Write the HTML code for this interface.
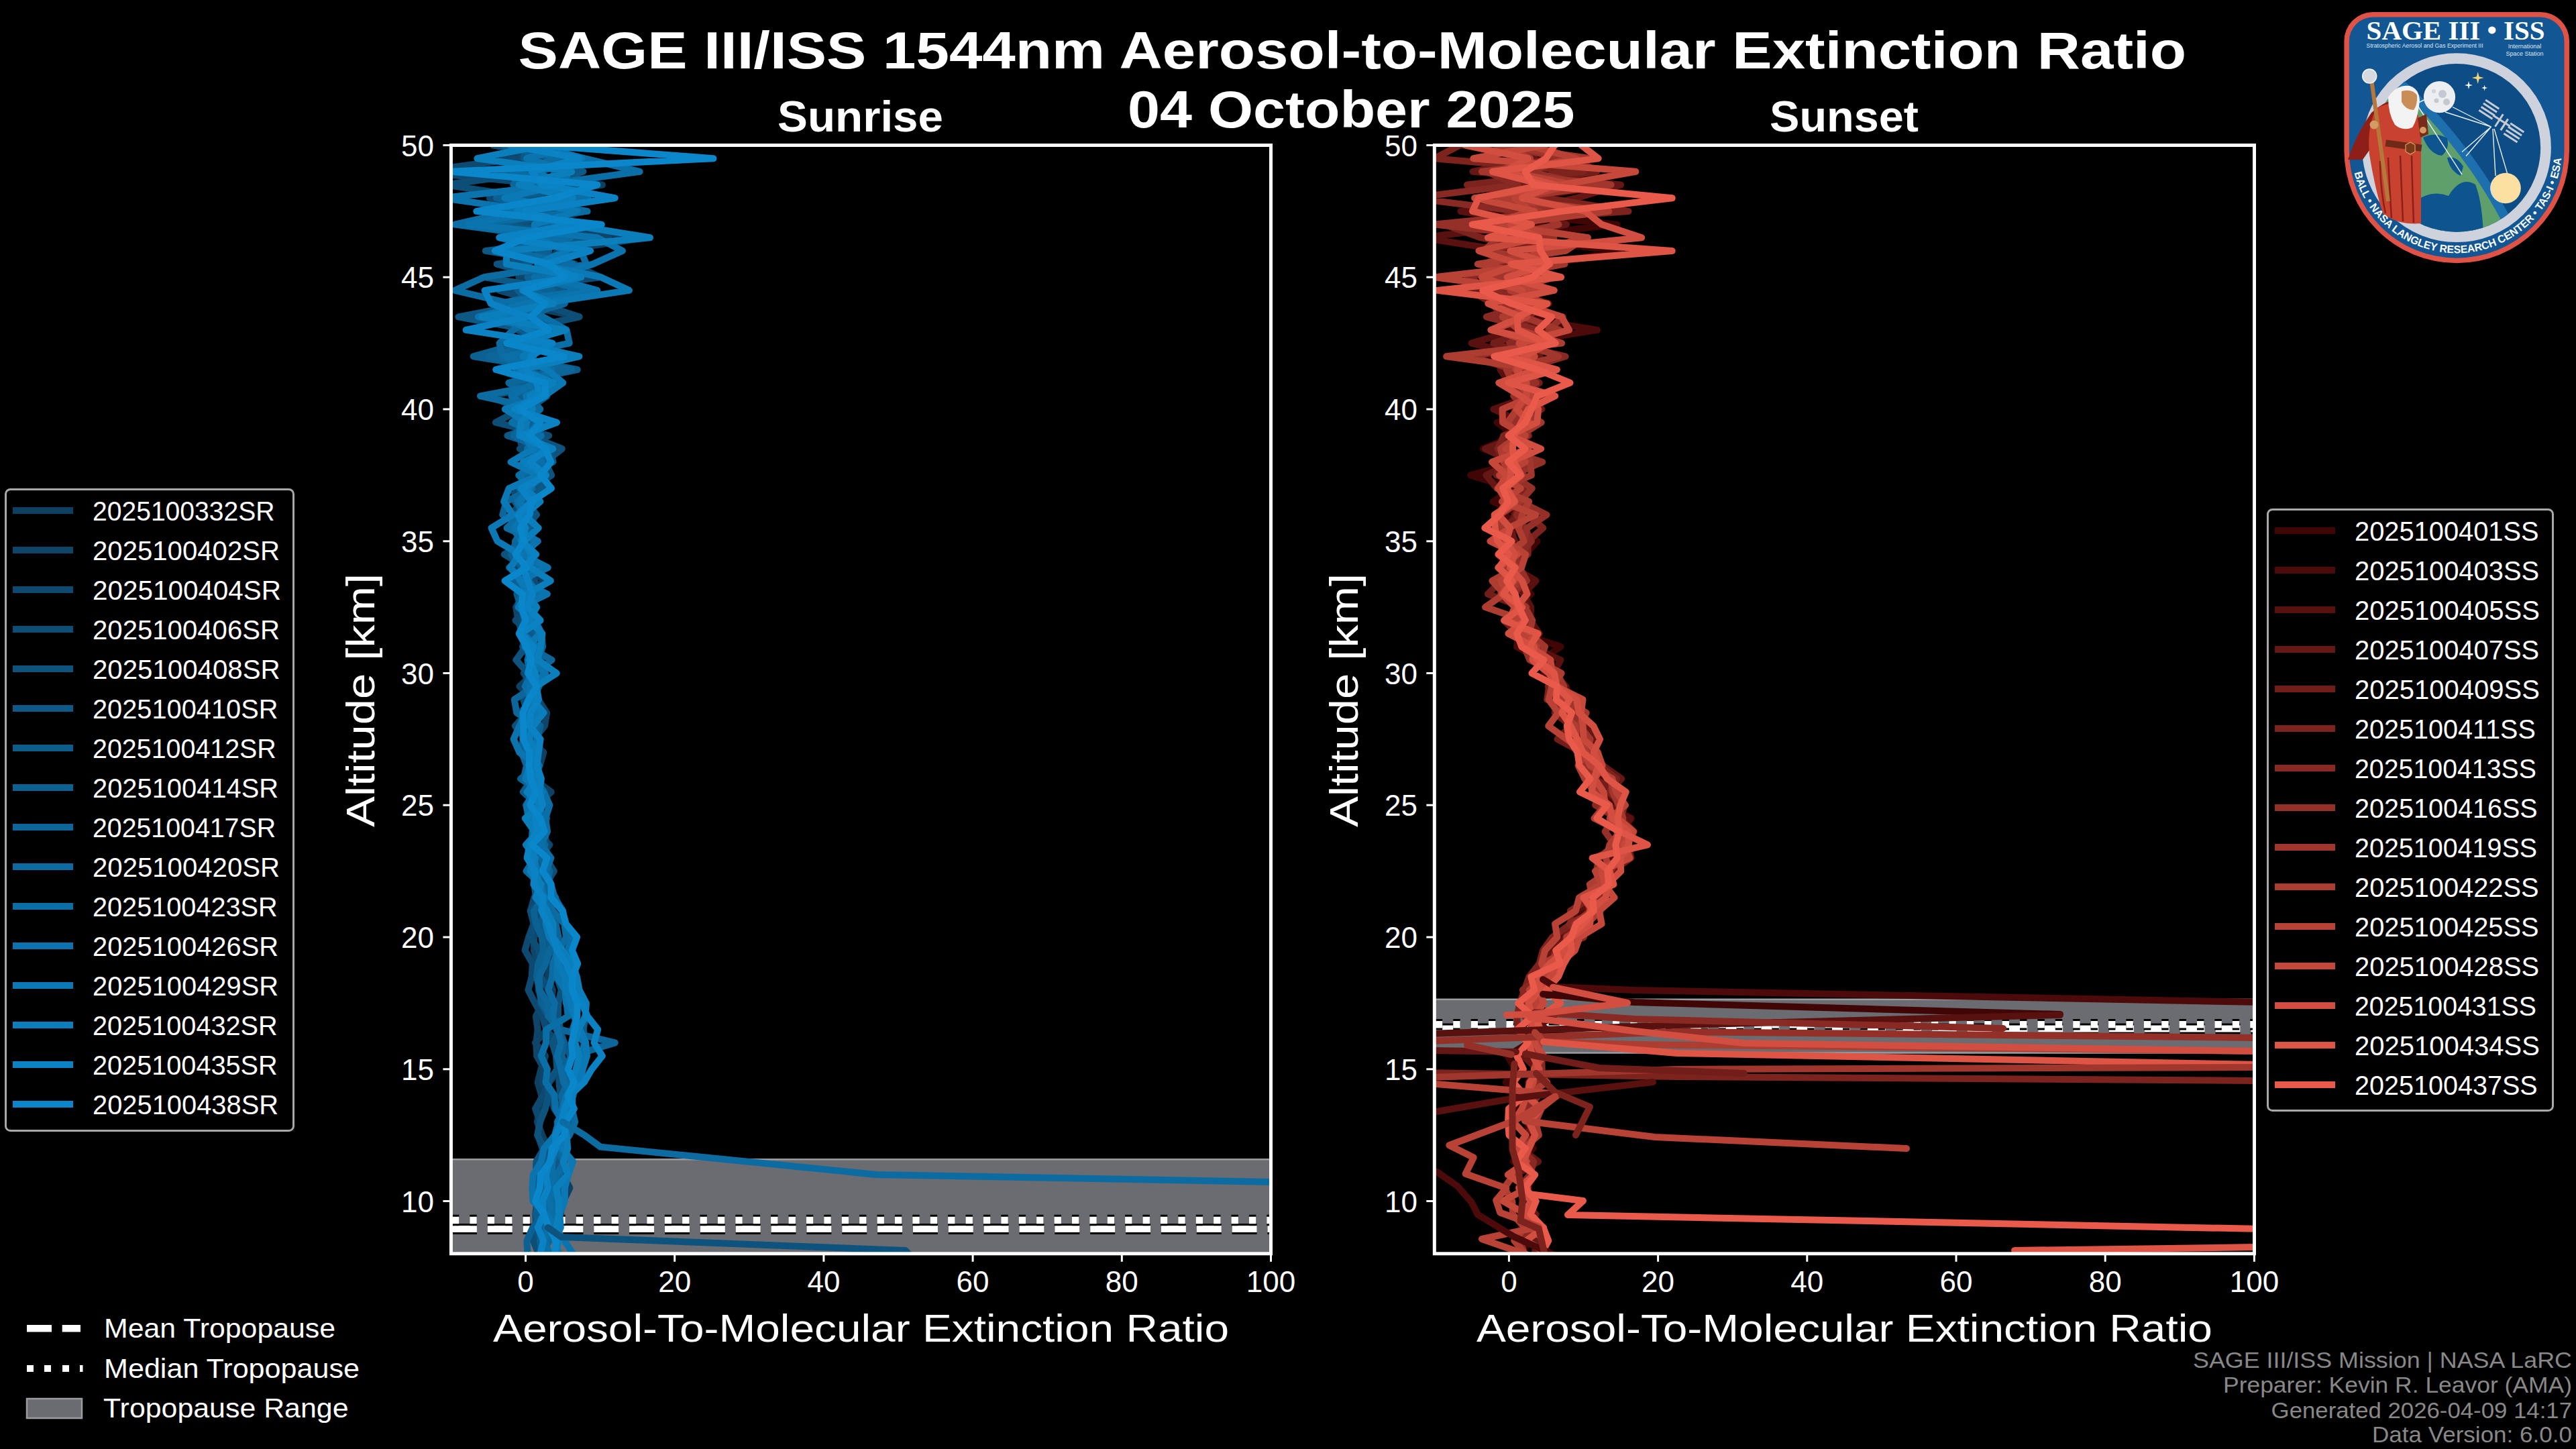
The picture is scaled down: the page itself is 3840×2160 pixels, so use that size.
<!DOCTYPE html><html><head><meta charset="utf-8"><style>html,body{margin:0;padding:0;background:#000;overflow:hidden}svg{display:block}</style></head><body>
<svg width="3840" height="2160" viewBox="0 0 3840 2160" style="font-family:'Liberation Sans', sans-serif">
<rect x="0" y="0" width="3840" height="2160" fill="#000"/>
<defs><clipPath id="cl"><rect x="672.4" y="216.5" width="1222.1" height="1652.3"/></clipPath><clipPath id="cr"><rect x="2138.3" y="216.5" width="1222.2" height="1652.3"/></clipPath></defs>
<text x="772.6" y="102.3" font-size="78" text-anchor="start" font-weight="bold" fill="#fff" textLength="2486.4" lengthAdjust="spacingAndGlyphs">SAGE III/ISS 1544nm Aerosol-to-Molecular Extinction Ratio</text>
<text x="1681.0" y="189.7" font-size="78" text-anchor="start" font-weight="bold" fill="#fff" textLength="666.5" lengthAdjust="spacingAndGlyphs">04 October 2025</text>
<text x="1159.0" y="195.5" font-size="64" text-anchor="start" font-weight="bold" fill="#fff" textLength="247.0" lengthAdjust="spacingAndGlyphs">Sunrise</text>
<text x="2638.0" y="195.5" font-size="64" text-anchor="start" font-weight="bold" fill="#fff" textLength="222.0" lengthAdjust="spacingAndGlyphs">Sunset</text>
<g clip-path="url(#cl)"><rect x="672.4" y="1728.3" width="1222.1" height="140.5" fill="#6a6c71"/><line x1="672.4" y1="1728.3" x2="1894.5" y2="1728.3" stroke="#9a9ca0" stroke-width="2.5"/><line x1="672.4" y1="1868.8" x2="1894.5" y2="1868.8" stroke="#9a9ca0" stroke-width="2.5"/></g>
<g clip-path="url(#cl)">
<line x1="672.4" y1="1832.0" x2="1894.5" y2="1832.0" stroke="#000" stroke-width="16" stroke-dasharray="37 15.85" stroke-dashoffset="-1.5"/>
<line x1="672.4" y1="1832.0" x2="1894.5" y2="1832.0" stroke="#fff" stroke-width="10" stroke-dasharray="37 15.85" stroke-dashoffset="-1.5"/>
<line x1="672.4" y1="1819.0" x2="1894.5" y2="1819.0" stroke="#000" stroke-width="16.5" stroke-dasharray="10.4 16.0" stroke-dashoffset="-1.5"/>
<line x1="672.4" y1="1819.0" x2="1894.5" y2="1819.0" stroke="#fff" stroke-width="10.4" stroke-dasharray="10.4 16.0" stroke-dashoffset="-1.5"/>
</g>
<g clip-path="url(#cr)"><rect x="2138.3" y="1489.8" width="1222.2" height="79.7" fill="#6a6c71"/><line x1="2138.3" y1="1489.8" x2="3360.5" y2="1489.8" stroke="#9a9ca0" stroke-width="2.5"/><line x1="2138.3" y1="1569.5" x2="3360.5" y2="1569.5" stroke="#9a9ca0" stroke-width="2.5"/></g>
<g clip-path="url(#cr)">
<line x1="2138.3" y1="1533.5" x2="3360.5" y2="1533.5" stroke="#000" stroke-width="16" stroke-dasharray="37 15.85" stroke-dashoffset="-1.5"/>
<line x1="2138.3" y1="1533.5" x2="3360.5" y2="1533.5" stroke="#fff" stroke-width="10" stroke-dasharray="37 15.85" stroke-dashoffset="-1.5"/>
<line x1="2138.3" y1="1527.2" x2="3360.5" y2="1527.2" stroke="#000" stroke-width="16.5" stroke-dasharray="10.4 16.0" stroke-dashoffset="-1.5"/>
<line x1="2138.3" y1="1527.2" x2="3360.5" y2="1527.2" stroke="#fff" stroke-width="10.4" stroke-dasharray="10.4 16.0" stroke-dashoffset="-1.5"/>
</g>
<g clip-path="url(#cl)">
<path d="M779.7 196.8 L770.6 216.5 L802.7 236.2 L759.8 255.8 L897.9 275.5 L769.7 295.2 L871.7 314.9 L791.9 334.6 L963.5 354.2 L831.6 373.9 L814.8 393.6 L849.4 413.2 L810.1 432.9 L767.5 452.6 L863.0 472.3 L772.0 491.9 L812.0 511.6 L792.3 531.3 L748.8 551.0 L802.6 570.7 L762.8 590.3 L763.3 610.0 L790.5 629.7 L778.4 649.4 L797.4 669.0 L790.2 688.7 L803.2 708.4 L769.5 728.0 L795.6 747.7 L773.2 767.4 L803.0 787.1 L781.2 806.8 L784.6 826.4 L779.8 846.1 L815.3 865.8 L773.8 885.5 L792.2 905.1 L780.6 924.8 L796.6 944.5 L779.5 964.1 L793.0 983.8 L795.7 1003.5 L774.4 1023.2 L794.9 1042.8 L775.1 1062.5 L794.1 1082.2 L787.4 1101.9 L810.4 1121.6 L804.8 1141.2 L794.9 1160.9 L821.8 1180.6 L800.3 1200.2 L806.4 1219.9 L794.6 1239.6 L812.1 1259.3 L800.3 1279.0 L822.8 1298.6 L810.4 1318.3 L820.2 1338.0 L818.4 1357.7 L824.3 1377.3 L822.0 1397.0 L825.0 1416.7 L821.4 1436.4 L816.0 1456.0 L823.8 1475.7 L822.2 1495.4 L819.9 1515.0 L815.7 1534.7 L798.0 1554.4 L813.0 1574.1 L806.5 1593.8 L801.6 1613.4 L807.2 1633.1 L806.2 1652.8 L800.8 1672.5 L808.1 1692.1 L817.6 1711.8 L827.9 1731.5 L839.4 1751.2 L849.4 1770.8 L839.8 1790.5 L835.3 1810.2 L819.7 1829.9 L808.3 1849.5 L800.6 1869.2 L810.4 1888.9" fill="none" stroke="#0e4062" stroke-width="10" stroke-linejoin="round" stroke-linecap="round"/>
<path d="M838.6 196.8 L787.8 216.5 L750.0 236.2 L765.2 255.8 L836.8 275.5 L760.6 295.2 L747.4 314.9 L753.9 334.6 L907.7 354.2 L779.9 373.9 L821.3 393.6 L773.3 413.2 L835.5 432.9 L839.2 452.6 L785.9 472.3 L791.0 491.9 L772.9 511.6 L793.0 531.3 L741.6 551.0 L798.3 570.7 L786.9 590.3 L774.2 610.0 L789.0 629.7 L773.1 649.4 L779.1 669.0 L797.6 688.7 L806.3 708.4 L779.0 728.0 L792.9 747.7 L787.3 767.4 L801.3 787.1 L776.1 806.8 L797.7 826.4 L777.3 846.1 L773.5 865.8 L781.3 885.5 L769.2 905.1 L772.4 924.8 L778.2 944.5 L800.1 964.1 L791.3 983.8 L800.0 1003.5 L783.5 1023.2 L802.3 1042.8 L815.1 1062.5 L812.0 1082.2 L796.1 1101.9 L794.2 1121.6 L802.8 1141.2 L784.8 1160.9 L800.6 1180.6 L797.6 1200.2 L803.8 1219.9 L799.7 1239.6 L819.3 1259.3 L803.4 1279.0 L813.8 1298.6 L817.0 1318.3 L808.5 1338.0 L800.8 1357.7 L806.3 1377.3 L796.0 1397.0 L795.9 1416.7 L801.6 1436.4 L803.6 1456.0 L802.6 1475.7 L809.0 1495.4 L798.8 1515.0 L801.6 1534.7 L799.3 1554.4 L800.2 1574.1 L811.2 1593.8 L808.2 1613.4 L820.5 1633.1 L826.2 1652.8 L839.6 1672.5 L829.2 1692.1 L836.9 1711.8 L839.2 1731.5 L841.0 1751.2 L838.1 1770.8 L836.3 1790.5 L823.3 1810.2 L813.2 1829.9 L801.7 1849.5 L804.2 1869.2 L797.2 1888.9" fill="none" stroke="#0e4569" stroke-width="10" stroke-linejoin="round" stroke-linecap="round"/>
<path d="M850.1 196.8 L782.4 216.5 L772.8 236.2 L623.9 255.8 L818.8 275.5 L729.9 295.2 L828.5 314.9 L747.5 334.6 L861.8 354.2 L779.2 373.9 L852.9 393.6 L895.0 413.2 L744.4 432.9 L813.2 452.6 L802.0 472.3 L813.9 491.9 L759.1 511.6 L795.0 531.3 L780.4 551.0 L777.4 570.7 L773.3 590.3 L779.0 610.0 L812.7 629.7 L780.4 649.4 L811.2 669.0 L796.9 688.7 L801.1 708.4 L760.9 728.0 L780.0 747.7 L760.9 767.4 L775.7 787.1 L776.5 806.8 L786.4 826.4 L765.3 846.1 L797.2 865.8 L795.3 885.5 L790.3 905.1 L768.4 924.8 L792.1 944.5 L797.0 964.1 L795.5 983.8 L780.7 1003.5 L794.2 1023.2 L791.1 1042.8 L801.4 1062.5 L793.4 1082.2 L797.2 1101.9 L779.1 1121.6 L804.0 1141.2 L792.6 1160.9 L812.2 1180.6 L803.5 1200.2 L808.2 1219.9 L810.7 1239.6 L815.5 1259.3 L812.6 1279.0 L821.1 1298.6 L810.4 1318.3 L796.4 1338.0 L790.8 1357.7 L795.5 1377.3 L788.1 1397.0 L782.6 1416.7 L793.8 1436.4 L792.7 1456.0 L787.4 1475.7 L797.5 1495.4 L808.4 1515.0 L814.2 1534.7 L829.8 1554.4 L829.7 1574.1 L833.0 1593.8 L818.9 1613.4 L809.4 1633.1 L798.1 1652.8 L805.1 1672.5 L801.8 1692.1 L808.5 1711.8 L820.5 1731.5 L813.7 1751.2 L822.1 1770.8 L816.8 1790.5 L811.4 1810.2 L802.2 1829.9 L801.7 1849.5 L803.2 1869.2 L802.8 1888.9" fill="none" stroke="#0d4970" stroke-width="10" stroke-linejoin="round" stroke-linecap="round"/>
<path d="M886.8 196.8 L735.3 216.5 L848.7 236.2 L808.8 255.8 L663.9 275.5 L794.1 295.2 L807.5 314.9 L778.5 334.6 L825.9 354.2 L770.0 373.9 L857.4 393.6 L786.3 413.2 L844.7 432.9 L802.3 452.6 L863.7 472.3 L771.6 491.9 L822.9 511.6 L756.8 531.3 L774.5 551.0 L830.9 570.7 L729.1 590.3 L776.9 610.0 L738.9 629.7 L818.1 649.4 L774.8 669.0 L816.0 688.7 L788.4 708.4 L793.1 728.0 L785.0 747.7 L795.6 767.4 L784.7 787.1 L789.6 806.8 L778.7 826.4 L783.2 846.1 L771.1 865.8 L793.2 885.5 L787.5 905.1 L779.7 924.8 L796.6 944.5 L778.9 964.1 L806.6 983.8 L794.2 1003.5 L797.8 1023.2 L780.4 1042.8 L785.9 1062.5 L767.9 1082.2 L783.9 1101.9 L776.2 1121.6 L790.8 1141.2 L783.0 1160.9 L792.3 1180.6 L798.1 1200.2 L799.6 1219.9 L811.0 1239.6 L814.6 1259.3 L813.6 1279.0 L825.9 1298.6 L813.6 1318.3 L810.6 1338.0 L790.7 1357.7 L797.4 1377.3 L790.8 1397.0 L803.5 1416.7 L806.1 1436.4 L805.6 1456.0 L818.1 1475.7 L823.9 1495.4 L827.6 1515.0 L833.9 1534.7 L823.0 1554.4 L829.3 1574.1 L834.0 1593.8 L833.4 1613.4 L835.5 1633.1 L842.4 1652.8 L839.2 1672.5 L846.3 1692.1 L821.4 1711.8 L816.7 1731.5 L798.9 1751.2 L800.1 1770.8 L800.4 1790.5 L798.2 1810.2 L799.4 1829.9 L794.9 1849.5 L802.8 1869.2 L799.3 1888.9" fill="none" stroke="#0d4e77" stroke-width="10" stroke-linejoin="round" stroke-linecap="round"/>
<path d="M810.0 196.8 L756.6 216.5 L868.2 236.2 L739.8 255.8 L832.6 275.5 L792.6 295.2 L848.8 314.9 L754.4 334.6 L804.2 354.2 L878.8 373.9 L740.6 393.6 L814.6 413.2 L780.3 432.9 L814.6 452.6 L750.0 472.3 L778.2 491.9 L795.2 511.6 L757.0 531.3 L797.0 551.0 L803.0 570.7 L764.9 590.3 L791.1 610.0 L799.5 629.7 L788.8 649.4 L837.7 669.0 L812.5 688.7 L822.1 708.4 L793.8 728.0 L784.5 747.7 L799.9 767.4 L783.3 787.1 L793.5 806.8 L751.7 826.4 L785.4 846.1 L774.9 865.8 L785.6 885.5 L778.0 905.1 L787.1 924.8 L777.9 944.5 L783.5 964.1 L769.3 983.8 L786.7 1003.5 L783.5 1023.2 L790.6 1042.8 L784.1 1062.5 L800.7 1082.2 L785.6 1101.9 L800.3 1121.6 L790.7 1141.2 L796.8 1160.9 L787.9 1180.6 L799.6 1200.2 L796.3 1219.9 L812.1 1239.6 L801.7 1259.3 L804.9 1279.0 L799.3 1298.6 L817.9 1318.3 L822.6 1338.0 L837.9 1357.7 L841.4 1377.3 L849.1 1397.0 L840.6 1416.7 L843.9 1436.4 L830.0 1456.0 L836.9 1475.7 L832.1 1495.4 L831.8 1515.0 L835.5 1534.7 L824.2 1554.4 L829.0 1574.1 L830.5 1593.8 L816.6 1613.4 L817.9 1633.1 L812.9 1652.8 L804.9 1672.5 L801.1 1692.1 L810.9 1711.8 L799.3 1731.5 L798.7 1751.2 L796.5 1770.8 L803.9 1790.5 L803.0 1810.2 L795.9 1829.9 L808.2 1849.5 L806.7 1869.2 L810.9 1888.9" fill="none" stroke="#0d537e" stroke-width="10" stroke-linejoin="round" stroke-linecap="round"/>
<path d="M868.7 196.8 L785.6 216.5 L780.3 236.2 L869.5 255.8 L809.0 275.5 L825.1 295.2 L726.0 314.9 L743.7 334.6 L879.2 354.2 L723.8 373.9 L844.4 393.6 L722.8 413.2 L837.4 432.9 L786.8 452.6 L683.5 472.3 L788.3 491.9 L811.8 511.6 L763.1 531.3 L818.8 551.0 L778.0 570.7 L815.5 590.3 L787.4 610.0 L813.3 629.7 L756.3 649.4 L819.7 669.0 L824.5 688.7 L780.6 708.4 L812.8 728.0 L767.2 747.7 L781.3 767.4 L781.7 787.1 L772.6 806.8 L782.5 826.4 L758.9 846.1 L784.5 865.8 L770.4 885.5 L776.7 905.1 L781.8 924.8 L791.5 944.5 L790.9 964.1 L787.2 983.8 L787.7 1003.5 L790.6 1023.2 L801.0 1042.8 L799.1 1062.5 L802.0 1082.2 L789.2 1101.9 L796.0 1121.6 L800.3 1141.2 L787.2 1160.9 L808.2 1180.6 L794.6 1200.2 L815.0 1219.9 L798.0 1239.6 L803.1 1259.3 L795.6 1279.0 L803.4 1298.6 L796.3 1318.3 L799.2 1338.0 L808.1 1357.7 L814.9 1377.3 L809.9 1397.0 L815.4 1416.7 L810.5 1436.4 L800.6 1456.0 L804.8 1475.7 L806.3 1495.4 L817.7 1515.0 L834.3 1534.7 L841.1 1554.4 L850.4 1574.1 L845.4 1593.8 L841.2 1613.4 L844.9 1633.1 L830.1 1652.8 L840.3 1672.5 L831.8 1692.1 L834.6 1711.8 L829.0 1731.5 L831.1 1751.2 L828.1 1770.8 L829.6 1790.5 L821.0 1810.2 L822.3 1829.9 L810.2 1849.5 L811.3 1869.2 L808.9 1888.9" fill="none" stroke="#0d5885" stroke-width="10" stroke-linejoin="round" stroke-linecap="round"/>
<path d="M820.4 196.8 L753.7 216.5 L844.4 236.2 L753.2 255.8 L882.9 275.5 L749.8 295.2 L830.8 314.9 L839.0 334.6 L744.4 354.2 L818.2 373.9 L784.6 393.6 L797.4 413.2 L772.0 432.9 L795.0 452.6 L763.4 472.3 L778.4 491.9 L798.5 511.6 L755.8 531.3 L860.7 551.0 L767.0 570.7 L777.0 590.3 L752.7 610.0 L817.6 629.7 L771.4 649.4 L810.4 669.0 L790.2 688.7 L791.2 708.4 L781.2 728.0 L793.3 747.7 L790.5 767.4 L764.3 787.1 L795.9 806.8 L782.5 826.4 L795.9 846.1 L783.5 865.8 L792.8 885.5 L785.4 905.1 L782.5 924.8 L799.4 944.5 L794.4 964.1 L804.4 983.8 L796.2 1003.5 L803.8 1023.2 L793.2 1042.8 L795.3 1062.5 L801.3 1082.2 L789.0 1101.9 L797.5 1121.6 L792.3 1141.2 L793.4 1160.9 L779.8 1180.6 L801.9 1200.2 L794.9 1219.9 L801.5 1239.6 L802.1 1259.3 L809.1 1279.0 L807.7 1298.6 L814.7 1318.3 L807.3 1338.0 L811.0 1357.7 L806.9 1377.3 L817.6 1397.0 L823.5 1416.7 L839.4 1436.4 L856.2 1456.0 L859.9 1475.7 L873.7 1495.4 L872.5 1515.0 L869.6 1534.7 L872.8 1554.4 L872.3 1574.1 L861.5 1593.8 L858.2 1613.4 L854.7 1633.1 L843.7 1652.8 L846.1 1672.5 L836.2 1692.1 L832.0 1711.8 L812.8 1731.5 L809.1 1751.2 L802.0 1770.8 L803.3 1790.5 L799.2 1810.2 L806.8 1829.9 L804.9 1849.5 L806.9 1869.2 L804.0 1888.9" fill="none" stroke="#0c5c8c" stroke-width="10" stroke-linejoin="round" stroke-linecap="round"/>
<path d="M881.6 196.8 L750.4 216.5 L825.3 236.2 L827.3 255.8 L817.9 275.5 L739.8 295.2 L819.0 314.9 L744.3 334.6 L797.8 354.2 L801.6 373.9 L842.9 393.6 L786.5 413.2 L823.2 432.9 L748.1 452.6 L806.1 472.3 L814.3 491.9 L775.4 511.6 L705.7 531.3 L827.6 551.0 L758.8 570.7 L802.6 590.3 L758.6 610.0 L790.1 629.7 L792.2 649.4 L816.8 669.0 L795.7 688.7 L802.9 708.4 L784.9 728.0 L786.4 747.7 L769.8 767.4 L789.0 787.1 L769.8 806.8 L761.8 826.4 L778.7 846.1 L764.0 865.8 L776.7 885.5 L772.0 905.1 L793.5 924.8 L806.8 944.5 L809.1 964.1 L801.6 983.8 L812.8 1003.5 L789.2 1023.2 L799.4 1042.8 L787.4 1062.5 L805.7 1082.2 L800.4 1101.9 L789.8 1121.6 L801.5 1141.2 L776.0 1160.9 L805.9 1180.6 L796.5 1200.2 L799.9 1219.9 L795.7 1239.6 L799.6 1259.3 L793.4 1279.0 L803.0 1298.6 L798.6 1318.3 L811.3 1338.0 L795.8 1357.7 L798.8 1377.3 L807.6 1397.0 L810.3 1416.7 L802.3 1436.4 L800.0 1456.0 L804.3 1475.7 L808.0 1495.4 L821.4 1515.0 L829.5 1534.7 L839.6 1554.4 L837.6 1574.1 L844.6 1593.8 L844.9 1613.4 L843.6 1633.1 L848.2 1652.8 L848.9 1672.5 L834.2 1692.1 L835.7 1711.8 L822.8 1731.5 L822.4 1751.2 L811.5 1770.8 L803.5 1790.5 L812.1 1810.2 L794.1 1829.9 L785.4 1849.5 L786.4 1869.2 L786.1 1888.9" fill="none" stroke="#0c6193" stroke-width="10" stroke-linejoin="round" stroke-linecap="round"/>
<path d="M797.9 196.8 L785.2 216.5 L840.6 236.2 L775.7 255.8 L765.3 275.5 L872.3 295.2 L771.3 314.9 L821.1 334.6 L810.2 354.2 L857.3 373.9 L811.7 393.6 L842.6 413.2 L789.3 432.9 L841.7 452.6 L775.6 472.3 L811.9 491.9 L807.5 511.6 L728.1 531.3 L852.2 551.0 L758.4 570.7 L788.9 590.3 L805.2 610.0 L784.2 629.7 L765.6 649.4 L802.2 669.0 L813.3 688.7 L783.3 708.4 L793.7 728.0 L754.6 747.7 L749.3 767.4 L780.2 787.1 L768.0 806.8 L768.4 826.4 L788.1 846.1 L774.8 865.8 L786.0 885.5 L781.2 905.1 L786.7 924.8 L780.5 944.5 L787.7 964.1 L822.6 983.8 L793.3 1003.5 L796.6 1023.2 L766.8 1042.8 L770.2 1062.5 L801.2 1082.2 L779.7 1101.9 L777.5 1121.6 L785.1 1141.2 L780.4 1160.9 L797.4 1180.6 L784.1 1200.2 L788.5 1219.9 L801.1 1239.6 L812.4 1259.3 L807.0 1279.0 L819.6 1298.6 L814.6 1318.3 L828.3 1338.0 L818.3 1357.7 L828.6 1377.3 L832.5 1397.0 L819.5 1416.7 L813.1 1436.4 L803.6 1456.0 L804.8 1475.7 L816.2 1495.4 L817.4 1515.0 L834.7 1534.7 L916.8 1554.4 L852.0 1574.1 L842.9 1593.8 L846.4 1613.4 L837.4 1633.1 L841.6 1652.8 L830.7 1672.5 L834.5 1692.1 L829.7 1711.8 L840.1 1731.5 L833.8 1751.2 L840.7 1770.8 L830.7 1790.5 L825.7 1810.2 L813.5 1829.9 L818.6 1849.5 L807.8 1869.2 L819.5 1888.9" fill="none" stroke="#0c6699" stroke-width="10" stroke-linejoin="round" stroke-linecap="round"/>
<path d="M806.6 196.8 L774.7 216.5 L832.6 236.2 L764.9 255.8 L821.7 275.5 L753.9 295.2 L875.6 314.9 L695.1 334.6 L850.4 354.2 L757.8 373.9 L853.6 393.6 L721.3 413.2 L678.0 432.9 L761.6 452.6 L798.4 472.3 L764.9 491.9 L744.6 511.6 L748.7 531.3 L785.5 551.0 L820.4 570.7 L716.0 590.3 L805.2 610.0 L771.0 629.7 L789.5 649.4 L815.6 669.0 L804.6 688.7 L804.4 708.4 L774.3 728.0 L796.5 747.7 L776.7 767.4 L755.5 787.1 L799.1 806.8 L783.8 826.4 L795.8 846.1 L787.5 865.8 L803.1 885.5 L779.2 905.1 L796.4 924.8 L778.3 944.5 L792.8 964.1 L786.4 983.8 L791.2 1003.5 L785.3 1023.2 L792.2 1042.8 L784.9 1062.5 L777.8 1082.2 L779.6 1101.9 L797.1 1121.6 L800.6 1141.2 L801.5 1160.9 L803.0 1180.6 L802.1 1200.2 L811.6 1219.9 L793.5 1239.6 L792.6 1259.3 L796.7 1279.0 L784.5 1298.6 L806.1 1318.3 L812.8 1338.0 L824.1 1357.7 L841.2 1377.3 L844.1 1397.0 L832.1 1416.7 L824.3 1436.4 L823.3 1456.0 L817.3 1475.7 L826.8 1495.4 L824.0 1515.0 L831.9 1534.7 L836.2 1554.4 L830.7 1574.1 L836.4 1593.8 L840.1 1613.4 L851.3 1633.1 L852.5 1652.8 L857.2 1672.5 L848.9 1692.1 L834.7 1711.8 L842.4 1731.5 L829.4 1751.2 L830.7 1770.8 L823.3 1790.5 L824.8 1810.2 L814.7 1829.9 L814.5 1849.5 L812.0 1869.2 L811.1 1888.9" fill="none" stroke="#0c6ba0" stroke-width="10" stroke-linejoin="round" stroke-linecap="round"/>
<path d="M794.4 196.8 L791.1 216.5 L871.1 236.2 L953.6 255.8 L808.9 275.5 L876.9 295.2 L764.5 314.9 L678.0 334.6 L828.0 354.2 L866.0 373.9 L873.8 393.6 L796.5 413.2 L871.1 432.9 L739.5 452.6 L809.5 472.3 L844.6 491.9 L848.7 511.6 L754.6 531.3 L822.7 551.0 L796.1 570.7 L762.6 590.3 L787.5 610.0 L762.9 629.7 L806.8 649.4 L785.9 669.0 L807.5 688.7 L773.3 708.4 L791.8 728.0 L770.9 747.7 L781.1 767.4 L763.6 787.1 L778.1 806.8 L781.6 826.4 L806.2 846.1 L776.4 865.8 L802.4 885.5 L783.7 905.1 L800.1 924.8 L802.9 944.5 L789.8 964.1 L796.5 983.8 L794.1 1003.5 L782.7 1023.2 L793.5 1042.8 L785.3 1062.5 L782.0 1082.2 L789.8 1101.9 L791.1 1121.6 L803.8 1141.2 L798.1 1160.9 L810.6 1180.6 L819.4 1200.2 L813.1 1219.9 L816.0 1239.6 L806.5 1259.3 L821.4 1279.0 L813.6 1298.6 L821.3 1318.3 L826.8 1338.0 L839.0 1357.7 L842.5 1377.3 L851.7 1397.0 L847.0 1416.7 L846.8 1436.4 L844.5 1456.0 L854.1 1475.7 L844.6 1495.4 L846.8 1515.0 L814.2 1534.7 L814.0 1554.4 L806.6 1574.1 L815.9 1593.8 L813.5 1613.4 L826.5 1633.1 L827.7 1652.8 L838.7 1672.5 L827.5 1692.1 L826.8 1711.8 L823.1 1731.5 L822.9 1751.2 L822.9 1770.8 L818.3 1790.5 L821.9 1810.2 L815.8 1829.9 L810.8 1849.5 L819.6 1869.2 L814.5 1888.9" fill="none" stroke="#0b6fa7" stroke-width="10" stroke-linejoin="round" stroke-linecap="round"/>
<path d="M844.5 196.8 L858.7 216.5 L785.0 236.2 L848.7 255.8 L837.4 275.5 L659.8 295.2 L799.0 314.9 L699.6 334.6 L890.1 354.2 L927.9 373.9 L883.8 393.6 L819.1 413.2 L890.3 432.9 L785.1 452.6 L712.9 472.3 L816.0 491.9 L771.1 511.6 L795.3 531.3 L769.1 551.0 L825.0 570.7 L784.2 590.3 L789.1 610.0 L802.7 629.7 L787.4 649.4 L804.4 669.0 L790.6 688.7 L805.5 708.4 L789.4 728.0 L775.3 747.7 L783.7 767.4 L767.0 787.1 L801.8 806.8 L778.9 826.4 L816.7 846.1 L774.7 865.8 L815.8 885.5 L776.4 905.1 L796.5 924.8 L778.9 944.5 L800.8 964.1 L793.1 983.8 L812.8 1003.5 L790.8 1023.2 L788.9 1042.8 L783.4 1062.5 L774.4 1082.2 L765.6 1101.9 L774.4 1121.6 L801.9 1141.2 L786.5 1160.9 L794.5 1180.6 L785.7 1200.2 L787.5 1219.9 L798.3 1239.6 L794.9 1259.3 L794.5 1279.0 L801.3 1298.6 L803.0 1318.3 L812.1 1338.0 L807.6 1357.7 L821.4 1377.3 L823.3 1397.0 L829.7 1416.7 L830.3 1436.4 L830.0 1456.0 L842.3 1475.7 L843.9 1495.4 L860.1 1515.0 L853.6 1534.7 L871.4 1554.4 L866.3 1574.1 L864.9 1593.8 L856.6 1613.4 L844.4 1633.1 L838.5 1652.8 L832.5 1672.5 L827.1 1692.1 L811.1 1711.8 L806.7 1731.5 L794.7 1751.2 L793.3 1770.8 L794.6 1790.5 L814.1 1810.2 L827.4 1829.9 L841.3 1849.5 L854.5 1869.2 L843.9 1888.9" fill="none" stroke="#0b74ae" stroke-width="10" stroke-linejoin="round" stroke-linecap="round"/>
<path d="M935.7 196.8 L802.9 216.5 L867.5 236.2 L799.1 255.8 L835.7 275.5 L752.2 295.2 L860.4 314.9 L796.9 334.6 L796.4 354.2 L844.8 373.9 L801.2 393.6 L895.9 413.2 L937.9 432.9 L806.4 452.6 L753.4 472.3 L788.4 491.9 L810.4 511.6 L779.4 531.3 L815.4 551.0 L839.2 570.7 L811.3 590.3 L753.1 610.0 L785.2 629.7 L780.4 649.4 L794.7 669.0 L761.6 688.7 L803.6 708.4 L758.7 728.0 L751.1 747.7 L764.4 767.4 L732.6 787.1 L741.5 806.8 L774.4 826.4 L760.7 846.1 L776.6 865.8 L785.9 885.5 L773.1 905.1 L797.4 924.8 L807.7 944.5 L782.2 964.1 L799.2 983.8 L791.4 1003.5 L798.6 1023.2 L792.4 1042.8 L801.6 1062.5 L789.7 1082.2 L803.0 1101.9 L788.7 1121.6 L790.0 1141.2 L783.4 1160.9 L808.0 1180.6 L801.9 1200.2 L795.7 1219.9 L801.9 1239.6 L784.0 1259.3 L798.1 1279.0 L796.7 1298.6 L805.5 1318.3 L806.0 1338.0 L815.5 1357.7 L813.5 1377.3 L818.7 1397.0 L832.5 1416.7 L831.9 1436.4 L841.5 1456.0 L843.5 1475.7 L851.1 1495.4 L855.8 1515.0 L864.5 1534.7 L873.2 1554.4 L875.0 1574.1 L868.7 1593.8 L865.0 1613.4 L850.5 1633.1 L847.8 1652.8 L839.2 1672.5 L841.9 1692.1 L837.9 1711.8 L854.0 1731.5 L847.2 1751.2 L841.9 1770.8 L841.9 1790.5 L834.2 1810.2 L835.8 1829.9 L827.0 1849.5 L833.4 1869.2 L822.3 1888.9" fill="none" stroke="#0b79b5" stroke-width="10" stroke-linejoin="round" stroke-linecap="round"/>
<path d="M833.2 196.8 L809.7 216.5 L711.4 236.2 L852.2 255.8 L773.5 275.5 L854.1 295.2 L770.5 314.9 L847.6 334.6 L969.0 354.2 L755.4 373.9 L754.7 393.6 L866.4 413.2 L778.8 432.9 L825.5 452.6 L718.3 472.3 L843.5 491.9 L775.0 511.6 L863.4 531.3 L775.9 551.0 L824.7 570.7 L789.8 590.3 L793.9 610.0 L776.4 629.7 L774.2 649.4 L824.3 669.0 L779.9 688.7 L814.0 708.4 L781.1 728.0 L805.4 747.7 L782.0 767.4 L802.4 787.1 L781.1 806.8 L791.0 826.4 L790.7 846.1 L820.8 865.8 L785.8 885.5 L800.1 905.1 L788.2 924.8 L808.4 944.5 L806.1 964.1 L801.6 983.8 L829.8 1003.5 L799.3 1023.2 L793.9 1042.8 L810.5 1062.5 L794.8 1082.2 L788.1 1101.9 L798.3 1121.6 L788.2 1141.2 L800.9 1160.9 L785.7 1180.6 L805.7 1200.2 L782.9 1219.9 L796.7 1239.6 L793.3 1259.3 L795.9 1279.0 L790.2 1298.6 L806.5 1318.3 L798.5 1338.0 L814.9 1357.7 L824.5 1377.3 L824.5 1397.0 L838.2 1416.7 L853.3 1436.4 L859.9 1456.0 L863.6 1475.7 L873.8 1495.4 L872.7 1515.0 L862.2 1534.7 L857.1 1554.4 L863.5 1574.1 L858.7 1593.8 L854.0 1613.4 L853.2 1633.1 L853.4 1652.8 L840.2 1672.5 L844.5 1692.1 L846.3 1711.8 L839.7 1731.5 L846.5 1751.2 L828.9 1770.8 L832.6 1790.5 L832.9 1810.2 L829.1 1829.9 L833.0 1849.5 L828.4 1869.2 L831.0 1888.9" fill="none" stroke="#0b7ebc" stroke-width="10" stroke-linejoin="round" stroke-linecap="round"/>
<path d="M834.0 196.8 L759.9 216.5 L863.5 236.2 L792.5 255.8 L807.7 275.5 L916.8 295.2 L781.7 314.9 L854.4 334.6 L744.3 354.2 L880.1 373.9 L812.5 393.6 L857.9 413.2 L722.5 432.9 L731.8 452.6 L784.8 472.3 L694.6 491.9 L823.6 511.6 L791.4 531.3 L784.5 551.0 L800.3 570.7 L804.6 590.3 L767.3 610.0 L830.0 629.7 L776.7 649.4 L815.9 669.0 L790.3 688.7 L813.3 708.4 L776.6 728.0 L792.4 747.7 L771.8 767.4 L783.4 787.1 L777.5 806.8 L799.2 826.4 L780.3 846.1 L786.7 865.8 L793.8 885.5 L786.7 905.1 L805.6 924.8 L776.4 944.5 L795.6 964.1 L789.1 983.8 L797.7 1003.5 L799.8 1023.2 L803.0 1042.8 L790.8 1062.5 L789.8 1082.2 L805.6 1101.9 L802.8 1121.6 L800.2 1141.2 L806.9 1160.9 L803.8 1180.6 L809.1 1200.2 L797.7 1219.9 L800.2 1239.6 L789.6 1259.3 L785.6 1279.0 L798.0 1298.6 L795.4 1318.3 L809.9 1338.0 L807.2 1357.7 L817.0 1377.3 L824.2 1397.0 L831.0 1416.7 L843.7 1436.4 L852.3 1456.0 L852.5 1475.7 L867.3 1495.4 L875.8 1515.0 L891.2 1534.7 L885.6 1554.4 L897.8 1574.1 L882.2 1593.8 L870.7 1613.4 L849.6 1633.1 L841.4 1652.8 L837.3 1672.5 L827.9 1692.1 L828.7 1711.8 L819.0 1731.5 L813.7 1751.2 L816.8 1770.8 L808.8 1790.5 L810.4 1810.2 L801.7 1829.9 L810.0 1849.5 L805.5 1869.2 L810.4 1888.9" fill="none" stroke="#0a82c3" stroke-width="10" stroke-linejoin="round" stroke-linecap="round"/>
<path d="M886.6 196.8 L805.7 216.5 L1063.5 236.2 L672.4 255.8 L890.4 275.5 L826.6 295.2 L710.4 314.9 L896.8 334.6 L784.5 354.2 L737.9 373.9 L819.1 393.6 L841.6 413.2 L780.9 432.9 L812.2 452.6 L791.3 472.3 L818.3 491.9 L755.2 511.6 L841.0 531.3 L739.2 551.0 L813.0 570.7 L813.0 590.3 L774.7 610.0 L805.0 629.7 L790.2 649.4 L812.8 669.0 L821.3 688.7 L805.9 708.4 L822.0 728.0 L792.3 747.7 L789.4 767.4 L775.6 787.1 L781.5 806.8 L768.6 826.4 L785.4 846.1 L752.5 865.8 L779.0 885.5 L777.4 905.1 L783.4 924.8 L773.7 944.5 L784.6 964.1 L792.4 983.8 L787.0 1003.5 L799.9 1023.2 L788.0 1042.8 L779.2 1062.5 L780.4 1082.2 L780.2 1101.9 L789.3 1121.6 L788.8 1141.2 L791.1 1160.9 L798.2 1180.6 L790.2 1200.2 L805.5 1219.9 L811.5 1239.6 L792.8 1259.3 L815.3 1279.0 L808.9 1298.6 L821.6 1318.3 L821.4 1338.0 L838.3 1357.7 L843.8 1377.3 L860.1 1397.0 L852.8 1416.7 L861.2 1436.4 L853.6 1456.0 L852.8 1475.7 L860.7 1495.4 L860.2 1515.0 L856.7 1534.7 L852.0 1554.4 L853.5 1574.1 L846.7 1593.8 L856.2 1613.4 L846.6 1633.1 L855.9 1652.8 L843.0 1672.5 L841.5 1692.1 L822.6 1711.8 L820.5 1731.5 L805.8 1751.2 L804.7 1770.8 L798.2 1790.5 L810.5 1810.2 L818.1 1829.9 L828.9 1849.5 L826.7 1869.2 L834.2 1888.9" fill="none" stroke="#0a87ca" stroke-width="10" stroke-linejoin="round" stroke-linecap="round"/>
<path d="M839.0 1672.5 L871.0 1692.0 L895.0 1709.6 L1306.0 1751.0 L1900.0 1762.0" fill="none" stroke="#0c6ba0" stroke-width="10" stroke-linejoin="round" stroke-linecap="round"/>
<path d="M816.8 1829.9 L836.5 1844.0 L1349.6 1864.0 L1360.0 1875.0" fill="none" stroke="#0d537e" stroke-width="10" stroke-linejoin="round" stroke-linecap="round"/>
</g>
<g clip-path="url(#cr)">
<path d="M2248.1 196.8 L2209.4 216.5 L2271.4 236.2 L2228.7 255.8 L2241.6 275.5 L2213.9 295.2 L2219.8 314.9 L2410.7 334.6 L2236.2 354.2 L2414.1 373.9 L2310.8 393.6 L2230.2 413.2 L2261.0 432.9 L2229.2 452.6 L2294.9 472.3 L2228.0 491.9 L2254.6 511.6 L2207.9 531.3 L2257.0 551.0 L2270.0 570.7 L2262.4 590.3 L2299.1 610.0 L2231.6 629.7 L2258.5 649.4 L2210.7 669.0 L2265.4 688.7 L2192.1 708.4 L2255.8 728.0 L2225.7 747.7 L2266.2 767.4 L2258.3 787.1 L2291.6 806.8 L2273.8 826.4 L2255.4 846.1 L2245.2 865.8 L2282.5 885.5 L2259.9 905.1 L2278.7 924.8 L2268.2 944.5 L2326.5 964.1 L2297.2 983.8 L2323.7 1003.5 L2313.0 1023.2 L2342.1 1042.8 L2317.4 1062.5 L2350.3 1082.2 L2351.0 1101.9 L2370.3 1121.6 L2390.5 1141.2 L2381.7 1160.9 L2415.1 1180.6 L2396.8 1200.2 L2432.1 1219.9 L2418.4 1239.6 L2398.6 1259.3 L2402.8 1279.0 L2386.8 1298.6 L2381.0 1318.3 L2376.8 1338.0 L2349.5 1357.7 L2343.5 1377.3 L2322.4 1397.0 L2307.4 1416.7 L2318.8 1436.4 L2294.8 1456.0 L2302.2 1475.7 L2283.8 1495.4 L2286.3 1515.0 L2263.8 1534.7 L2279.1 1554.4 L2247.3 1574.1 L2258.7 1593.8 L2244.7 1613.4 L2267.1 1633.1 L2258.6 1652.8 L2277.3 1672.5 L2278.1 1692.1 L2285.7 1711.8 L2255.8 1731.5 L2286.5 1751.2 L2277.6 1770.8 L2271.1 1790.5 L2288.7 1810.2 L2267.4 1829.9 L2280.3 1849.5 L2265.8 1869.2 L2287.7 1888.9" fill="none" stroke="#400505" stroke-width="10" stroke-linejoin="round" stroke-linecap="round"/>
<path d="M2280.6 196.8 L2189.1 216.5 L2270.7 236.2 L2258.5 255.8 L2407.2 275.5 L2270.7 295.2 L2338.3 314.9 L2285.8 334.6 L2259.4 354.2 L2317.4 373.9 L2241.7 393.6 L2224.1 413.2 L2213.5 432.9 L2288.4 452.6 L2259.9 472.3 L2381.1 491.9 L2255.7 511.6 L2282.3 531.3 L2279.4 551.0 L2290.7 570.7 L2268.2 590.3 L2257.0 610.0 L2282.3 629.7 L2240.7 649.4 L2249.4 669.0 L2236.8 688.7 L2239.2 708.4 L2258.9 728.0 L2253.7 747.7 L2243.3 767.4 L2263.4 787.1 L2237.7 806.8 L2252.9 826.4 L2265.4 846.1 L2249.8 865.8 L2250.2 885.5 L2261.8 905.1 L2249.0 924.8 L2263.7 944.5 L2261.2 964.1 L2296.9 983.8 L2302.4 1003.5 L2325.5 1023.2 L2329.8 1042.8 L2359.6 1062.5 L2360.8 1082.2 L2381.9 1101.9 L2359.4 1121.6 L2380.7 1141.2 L2409.5 1160.9 L2402.1 1180.6 L2413.1 1200.2 L2403.2 1219.9 L2414.2 1239.6 L2410.8 1259.3 L2410.7 1279.0 L2380.7 1298.6 L2382.6 1318.3 L2383.7 1338.0 L2360.4 1357.7 L2353.1 1377.3 L2330.4 1397.0 L2325.8 1416.7 L2315.3 1436.4 L2309.3 1456.0 L2299.5 1475.7 L2281.9 1495.4 L2316.1 1515.0 L2282.6 1534.7" fill="none" stroke="#4c0b0a" stroke-width="10" stroke-linejoin="round" stroke-linecap="round"/>
<path d="M2307.1 196.8 L2276.9 216.5 L2304.3 236.2 L2251.5 255.8 L2325.6 275.5 L2308.9 295.2 L2177.4 314.9 L2287.0 334.6 L2119.7 354.2 L2245.3 373.9 L2222.8 393.6 L2282.1 413.2 L2199.3 432.9 L2234.3 452.6 L2230.6 472.3 L2260.3 491.9 L2193.5 511.6 L2275.4 531.3 L2236.4 551.0 L2249.7 570.7 L2282.4 590.3 L2226.5 610.0 L2268.7 629.7 L2257.6 649.4 L2248.4 669.0 L2238.1 688.7 L2249.3 708.4 L2237.9 728.0 L2247.6 747.7 L2233.5 767.4 L2253.2 787.1 L2256.1 806.8 L2254.7 826.4 L2256.3 846.1 L2289.6 865.8 L2271.2 885.5 L2282.3 905.1 L2281.1 924.8 L2294.9 944.5 L2282.5 964.1 L2326.4 983.8 L2315.9 1003.5 L2334.5 1023.2 L2339.8 1042.8 L2357.7 1062.5 L2367.6 1082.2 L2369.1 1101.9 L2382.3 1121.6 L2378.7 1141.2 L2394.7 1160.9 L2406.6 1180.6 L2384.4 1200.2 L2430.4 1219.9 L2415.5 1239.6 L2421.8 1259.3 L2397.0 1279.0 L2398.7 1298.6 L2383.5 1318.3 L2390.2 1338.0 L2346.1 1357.7 L2350.6 1377.3 L2329.4 1397.0 L2321.3 1416.7 L2303.6 1436.4 L2293.5 1456.0 L2282.0 1475.7 L2296.1 1495.4 L2278.7 1515.0 L2306.1 1534.7" fill="none" stroke="#58110f" stroke-width="10" stroke-linejoin="round" stroke-linecap="round"/>
<path d="M2255.5 196.8 L2208.8 216.5 L2287.9 236.2 L2195.5 255.8 L2416.1 275.5 L2350.2 295.2 L2267.1 314.9 L2335.0 334.6 L2220.5 354.2 L2255.8 373.9 L2212.6 393.6 L2293.1 413.2 L2248.4 432.9 L2308.6 452.6 L2267.2 472.3 L2304.4 491.9 L2286.7 511.6 L2295.7 531.3 L2276.4 551.0 L2288.5 570.7 L2258.0 590.3 L2286.9 610.0 L2249.7 629.7 L2266.1 649.4 L2214.2 669.0 L2254.8 688.7 L2215.3 708.4 L2231.3 728.0 L2268.0 747.7 L2257.8 767.4 L2250.5 787.1 L2258.3 806.8 L2239.4 826.4 L2262.8 846.1 L2248.1 865.8 L2272.5 885.5 L2274.1 905.1 L2277.8 924.8 L2271.7 944.5 L2285.1 964.1 L2298.4 983.8 L2314.5 1003.5 L2330.6 1023.2 L2335.2 1042.8 L2339.6 1062.5 L2365.4 1082.2 L2373.9 1101.9 L2368.7 1121.6 L2389.6 1141.2 L2417.2 1160.9 L2399.0 1180.6 L2414.7 1200.2 L2410.3 1219.9 L2415.4 1239.6 L2426.9 1259.3 L2419.4 1279.0 L2399.7 1298.6 L2397.9 1318.3 L2375.0 1338.0 L2368.1 1357.7 L2355.0 1377.3 L2341.5 1397.0 L2311.6 1416.7 L2310.8 1436.4 L2286.3 1456.0 L2291.6 1475.7 L2285.4 1495.4 L2276.4 1515.0 L2285.7 1534.7 L2289.7 1554.4 L2270.5 1574.1 L2291.5 1593.8 L2278.5 1613.4 L2279.1 1633.1 L2275.3 1652.8 L2290.3 1672.5 L2273.9 1692.1 L2266.9 1711.8 L2293.2 1731.5 L2259.1 1751.2 L2278.5 1770.8 L2271.9 1790.5 L2289.5 1810.2 L2276.5 1829.9 L2291.4 1849.5 L2287.4 1869.2 L2281.0 1888.9" fill="none" stroke="#641714" stroke-width="10" stroke-linejoin="round" stroke-linecap="round"/>
<path d="M2278.7 196.8 L2272.2 216.5 L2349.4 236.2 L2380.1 255.8 L2250.8 275.5 L2292.1 295.2 L2259.4 314.9 L2216.2 334.6 L2287.6 354.2 L2228.5 373.9 L2223.0 393.6 L2309.6 413.2 L2190.8 432.9 L2225.8 452.6 L2237.4 472.3 L2284.6 491.9 L2226.2 511.6 L2282.9 531.3 L2260.3 551.0 L2294.8 570.7 L2262.0 590.3 L2297.7 610.0 L2251.6 629.7 L2279.2 649.4 L2232.4 669.0 L2238.5 688.7 L2230.9 708.4 L2273.2 728.0 L2248.2 747.7 L2268.0 767.4 L2238.3 787.1 L2250.6 806.8 L2233.0 826.4 L2255.2 846.1 L2237.6 865.8 L2217.9 885.5 L2269.5 905.1 L2241.8 924.8 L2262.3 944.5 L2282.0 964.1 L2288.6 983.8 L2318.2 1003.5 L2307.8 1023.2 L2326.3 1042.8 L2317.7 1062.5 L2341.9 1082.2 L2321.5 1101.9 L2358.4 1121.6 L2376.1 1141.2 L2376.7 1160.9 L2411.9 1180.6 L2410.6 1200.2 L2415.6 1219.9 L2435.8 1239.6 L2427.1 1259.3 L2431.5 1279.0 L2403.0 1298.6 L2403.8 1318.3 L2381.4 1338.0 L2380.1 1357.7 L2346.4 1377.3 L2333.8 1397.0 L2336.7 1416.7 L2298.4 1436.4 L2296.9 1456.0 L2284.7 1475.7 L2287.9 1495.4 L2283.1 1515.0 L2289.1 1534.7" fill="none" stroke="#711d19" stroke-width="10" stroke-linejoin="round" stroke-linecap="round"/>
<path d="M2346.1 196.8 L2175.9 216.5 L2138.3 236.2 L2360.2 255.8 L2187.0 275.5 L2304.3 295.2 L2427.5 314.9 L2153.2 334.6 L2207.1 354.2 L2311.1 373.9 L2236.3 393.6 L2258.4 413.2 L2231.4 432.9 L2298.7 452.6 L2279.3 472.3 L2265.0 491.9 L2272.3 511.6 L2281.5 531.3 L2256.3 551.0 L2259.8 570.7 L2267.9 590.3 L2259.3 610.0 L2293.7 629.7 L2241.7 649.4 L2232.6 669.0 L2254.9 688.7 L2245.6 708.4 L2271.6 728.0 L2256.8 747.7 L2277.2 767.4 L2300.2 787.1 L2277.6 806.8 L2277.7 826.4 L2240.7 846.1 L2256.3 865.8 L2236.8 885.5 L2267.5 905.1 L2248.8 924.8 L2267.2 944.5 L2268.4 964.1 L2298.4 983.8 L2313.0 1003.5 L2309.2 1023.2 L2306.2 1042.8 L2356.1 1062.5 L2356.3 1082.2 L2370.0 1101.9 L2368.8 1121.6 L2384.2 1141.2 L2410.2 1160.9 L2398.6 1180.6 L2421.9 1200.2 L2416.0 1219.9 L2425.8 1239.6 L2416.9 1259.3 L2414.5 1279.0 L2394.4 1298.6 L2381.2 1318.3 L2371.6 1338.0 L2340.9 1357.7 L2341.6 1377.3 L2314.1 1397.0 L2300.1 1416.7 L2294.8 1436.4 L2279.4 1456.0 L2272.5 1475.7 L2265.6 1495.4 L2261.4 1515.0 L2262.5 1534.7" fill="none" stroke="#7d231e" stroke-width="10" stroke-linejoin="round" stroke-linecap="round"/>
<path d="M2271.3 196.8 L2265.0 216.5 L2318.1 236.2 L2215.9 255.8 L2262.2 275.5 L2104.9 295.2 L2263.8 314.9 L2233.1 334.6 L2276.8 354.2 L2228.8 373.9 L2271.8 393.6 L2187.1 413.2 L2224.5 432.9 L2284.5 452.6 L2215.8 472.3 L2291.6 491.9 L2250.1 511.6 L2333.6 531.3 L2268.3 551.0 L2244.7 570.7 L2295.4 590.3 L2290.3 610.0 L2262.1 629.7 L2277.2 649.4 L2241.2 669.0 L2270.9 688.7 L2269.9 708.4 L2242.0 728.0 L2274.5 747.7 L2260.6 767.4 L2272.9 787.1 L2282.9 806.8 L2264.8 826.4 L2258.0 846.1 L2275.4 865.8 L2255.2 885.5 L2265.7 905.1 L2268.5 924.8 L2287.1 944.5 L2292.7 964.1 L2305.2 983.8 L2314.0 1003.5 L2328.1 1023.2 L2334.1 1042.8 L2335.4 1062.5 L2354.1 1082.2 L2364.2 1101.9 L2361.5 1121.6 L2358.9 1141.2 L2364.1 1160.9 L2384.0 1180.6 L2378.2 1200.2 L2410.7 1219.9 L2411.7 1239.6 L2408.7 1259.3 L2414.6 1279.0 L2400.2 1298.6 L2401.4 1318.3 L2380.3 1338.0 L2378.4 1357.7 L2339.8 1377.3 L2361.0 1397.0 L2319.2 1416.7 L2312.6 1436.4 L2297.7 1456.0 L2269.8 1475.7 L2276.7 1495.4 L2272.6 1515.0 L2294.1 1534.7 L2279.3 1554.4 L2298.1 1574.1 L2298.7 1593.8 L2290.4 1613.4 L2293.7 1633.1 L2275.2 1652.8 L2277.6 1672.5 L2289.7 1692.1 L2267.4 1711.8 L2286.2 1731.5 L2281.0 1751.2 L2263.5 1770.8 L2285.9 1790.5 L2273.9 1810.2 L2281.9 1829.9 L2266.9 1849.5 L2272.2 1869.2 L2264.6 1888.9" fill="none" stroke="#892923" stroke-width="10" stroke-linejoin="round" stroke-linecap="round"/>
<path d="M2236.8 196.8 L2237.3 216.5 L2334.0 236.2 L2280.0 255.8 L2362.5 275.5 L2226.9 295.2 L2337.4 314.9 L2138.3 334.6 L2316.5 354.2 L2278.1 373.9 L2293.2 393.6 L2235.5 413.2 L2309.9 432.9 L2240.8 452.6 L2329.5 472.3 L2308.8 491.9 L2303.5 511.6 L2191.6 531.3 L2257.4 551.0 L2289.9 570.7 L2256.2 590.3 L2277.5 610.0 L2257.7 629.7 L2275.5 649.4 L2236.5 669.0 L2299.3 688.7 L2253.5 708.4 L2283.8 728.0 L2266.3 747.7 L2305.6 767.4 L2276.7 787.1 L2271.4 806.8 L2255.1 826.4 L2265.4 846.1 L2276.0 865.8 L2248.3 885.5 L2275.3 905.1 L2263.1 924.8 L2278.2 944.5 L2272.3 964.1 L2280.3 983.8 L2319.7 1003.5 L2312.7 1023.2 L2333.4 1042.8 L2344.8 1062.5 L2357.5 1082.2 L2363.4 1101.9 L2364.6 1121.6 L2364.6 1141.2 L2375.4 1160.9 L2380.8 1180.6 L2388.2 1200.2 L2405.6 1219.9 L2392.7 1239.6 L2406.7 1259.3 L2383.2 1279.0 L2380.0 1298.6 L2383.6 1318.3 L2361.2 1338.0 L2371.7 1357.7 L2346.7 1377.3 L2344.2 1397.0 L2320.7 1416.7 L2314.1 1436.4 L2308.8 1456.0 L2288.6 1475.7 L2287.9 1495.4 L2287.6 1515.0 L2283.7 1534.7" fill="none" stroke="#953028" stroke-width="10" stroke-linejoin="round" stroke-linecap="round"/>
<path d="M2285.7 196.8 L2230.2 216.5 L2371.3 236.2 L2208.9 255.8 L2401.6 275.5 L2252.4 295.2 L2294.1 314.9 L2323.5 334.6 L2233.6 354.2 L2211.9 373.9 L2332.4 393.6 L2225.7 413.2 L2285.5 432.9 L2267.5 452.6 L2271.4 472.3 L2324.6 491.9 L2271.8 511.6 L2323.2 531.3 L2245.7 551.0 L2255.5 570.7 L2313.9 590.3 L2265.2 610.0 L2297.7 629.7 L2265.8 649.4 L2272.9 669.0 L2281.3 688.7 L2282.9 708.4 L2236.4 728.0 L2265.0 747.7 L2235.8 767.4 L2237.4 787.1 L2238.6 806.8 L2238.9 826.4 L2246.3 846.1 L2264.9 865.8 L2247.0 885.5 L2273.3 905.1 L2284.3 924.8 L2279.6 944.5 L2303.1 964.1 L2296.0 983.8 L2320.8 1003.5 L2331.4 1023.2 L2330.2 1042.8 L2364.8 1062.5 L2353.8 1082.2 L2370.5 1101.9 L2365.1 1121.6 L2377.1 1141.2 L2401.7 1160.9 L2403.8 1180.6 L2413.4 1200.2 L2419.4 1219.9 L2409.9 1239.6 L2421.4 1259.3 L2377.8 1279.0 L2395.7 1298.6 L2385.9 1318.3 L2363.6 1338.0 L2375.6 1357.7 L2352.8 1377.3 L2347.1 1397.0 L2327.0 1416.7 L2326.0 1436.4 L2298.4 1456.0 L2307.4 1475.7 L2283.4 1495.4 L2292.8 1515.0 L2283.6 1534.7" fill="none" stroke="#a1362c" stroke-width="10" stroke-linejoin="round" stroke-linecap="round"/>
<path d="M2289.2 196.8 L2231.2 216.5 L2281.2 236.2 L2233.4 255.8 L2339.7 275.5 L2234.2 295.2 L2398.3 314.9 L2244.2 334.6 L2363.3 354.2 L2334.1 373.9 L2202.8 393.6 L2315.9 413.2 L2251.2 432.9 L2303.9 452.6 L2239.7 472.3 L2264.9 491.9 L2328.1 511.6 L2156.1 531.3 L2299.1 551.0 L2262.6 570.7 L2280.1 590.3 L2261.4 610.0 L2247.5 629.7 L2262.7 649.4 L2237.2 669.0 L2241.7 688.7 L2250.1 708.4 L2232.3 728.0 L2279.1 747.7 L2269.0 767.4 L2263.6 787.1 L2271.6 806.8 L2246.1 826.4 L2259.8 846.1 L2224.3 865.8 L2242.1 885.5 L2214.1 905.1 L2271.4 924.8 L2267.0 944.5 L2290.9 964.1 L2288.4 983.8 L2327.6 1003.5 L2315.4 1023.2 L2332.5 1042.8 L2327.0 1062.5 L2348.7 1082.2 L2349.8 1101.9 L2365.0 1121.6 L2352.6 1141.2 L2362.3 1160.9 L2376.8 1180.6 L2392.9 1200.2 L2376.4 1219.9 L2415.0 1239.6 L2399.6 1259.3 L2393.8 1279.0 L2398.9 1298.6 L2369.8 1318.3 L2374.1 1338.0 L2385.5 1357.7 L2365.2 1377.3 L2335.2 1397.0 L2336.4 1416.7 L2300.4 1436.4 L2306.8 1456.0 L2292.2 1475.7 L2280.7 1495.4 L2301.1 1515.0 L2280.4 1534.7 L2294.2 1554.4 L2293.3 1574.1 L2287.1 1593.8 L2306.3 1613.4 L2273.2 1633.1 L2297.6 1652.8 L2289.0 1672.5 L2293.9 1692.1 L2270.5 1711.8 L2269.4 1731.5 L2256.6 1751.2 L2242.3 1770.8 L2254.3 1790.5 L2255.1 1810.2 L2272.7 1829.9 L2257.3 1849.5 L2273.8 1869.2 L2285.8 1888.9" fill="none" stroke="#ad3c31" stroke-width="10" stroke-linejoin="round" stroke-linecap="round"/>
<path d="M2363.8 196.8 L2278.8 216.5 L2349.9 236.2 L2248.7 255.8 L2344.9 275.5 L2258.4 295.2 L2282.1 314.9 L2221.0 334.6 L2367.0 354.2 L2286.3 373.9 L2309.2 393.6 L2138.3 413.2 L2287.8 432.9 L2259.5 452.6 L2276.4 472.3 L2226.1 491.9 L2289.1 511.6 L2268.5 531.3 L2259.9 551.0 L2270.3 570.7 L2285.4 590.3 L2239.5 610.0 L2240.0 629.7 L2273.7 649.4 L2244.3 669.0 L2273.9 688.7 L2235.1 708.4 L2266.8 728.0 L2238.9 747.7 L2289.3 767.4 L2249.0 787.1 L2245.5 806.8 L2274.3 826.4 L2268.1 846.1 L2237.0 865.8 L2246.2 885.5 L2266.8 905.1 L2261.0 924.8 L2270.4 944.5 L2282.9 964.1 L2292.8 983.8 L2315.8 1003.5 L2313.5 1023.2 L2308.7 1042.8 L2322.8 1062.5 L2308.2 1082.2 L2335.4 1101.9 L2361.1 1121.6 L2370.1 1141.2 L2403.5 1160.9 L2409.1 1180.6 L2422.9 1200.2 L2399.6 1219.9 L2429.9 1239.6 L2414.4 1259.3 L2420.6 1279.0 L2378.0 1298.6 L2387.6 1318.3 L2354.0 1338.0 L2348.9 1357.7 L2318.1 1377.3 L2321.3 1397.0 L2303.2 1416.7 L2298.0 1436.4 L2307.1 1456.0 L2279.7 1475.7 L2293.8 1495.4 L2276.1 1515.0 L2285.3 1534.7" fill="none" stroke="#b94236" stroke-width="10" stroke-linejoin="round" stroke-linecap="round"/>
<path d="M2314.9 196.8 L2301.4 216.5 L2196.3 236.2 L2438.3 255.8 L2327.4 275.5 L2198.1 295.2 L2287.4 314.9 L2252.1 334.6 L2294.3 354.2 L2204.4 373.9 L2264.4 393.6 L2208.8 413.2 L2269.0 432.9 L2269.5 452.6 L2327.8 472.3 L2339.1 491.9 L2264.5 511.6 L2287.8 531.3 L2262.1 551.0 L2275.6 570.7 L2275.5 590.3 L2260.8 610.0 L2279.6 629.7 L2249.1 649.4 L2278.1 669.0 L2224.0 688.7 L2246.2 708.4 L2234.0 728.0 L2245.9 747.7 L2233.4 767.4 L2250.5 787.1 L2221.4 806.8 L2262.0 826.4 L2233.2 846.1 L2256.9 865.8 L2238.7 885.5 L2258.3 905.1 L2248.7 924.8 L2284.9 944.5 L2281.2 964.1 L2311.4 983.8 L2313.7 1003.5 L2320.1 1023.2 L2359.5 1042.8 L2356.9 1062.5 L2359.7 1082.2 L2360.6 1101.9 L2381.7 1121.6 L2388.6 1141.2 L2377.2 1160.9 L2390.5 1180.6 L2392.8 1200.2 L2411.6 1219.9 L2434.9 1239.6 L2421.1 1259.3 L2429.5 1279.0 L2387.6 1298.6 L2391.8 1318.3 L2406.5 1338.0 L2384.0 1357.7 L2387.6 1377.3 L2354.7 1397.0 L2347.8 1416.7 L2324.9 1436.4 L2311.0 1456.0 L2295.9 1475.7 L2301.0 1495.4 L2288.3 1515.0 L2296.6 1534.7 L2287.1 1554.4 L2301.2 1574.1 L2286.7 1593.8 L2285.8 1613.4 L2275.3 1633.1 L2268.8 1652.8 L2255.9 1672.5 L2274.4 1692.1 L2261.0 1711.8 L2275.8 1731.5 L2247.8 1751.2 L2277.1 1770.8 L2240.4 1790.5 L2275.6 1810.2 L2282.9 1829.9 L2302.2 1849.5 L2296.5 1869.2 L2306.9 1888.9" fill="none" stroke="#c6483b" stroke-width="10" stroke-linejoin="round" stroke-linecap="round"/>
<path d="M2281.3 196.8 L2184.3 216.5 L2277.7 236.2 L2242.7 255.8 L2317.9 275.5 L2268.8 295.2 L2362.9 314.9 L2387.6 334.6 L2447.2 354.2 L2251.4 373.9 L2310.6 393.6 L2246.7 413.2 L2316.8 432.9 L2218.3 452.6 L2268.2 472.3 L2222.4 491.9 L2310.0 511.6 L2271.3 531.3 L2291.1 551.0 L2234.3 570.7 L2267.0 590.3 L2293.2 610.0 L2291.2 629.7 L2250.2 649.4 L2297.1 669.0 L2251.5 688.7 L2252.0 708.4 L2246.8 728.0 L2258.5 747.7 L2233.6 767.4 L2251.1 787.1 L2245.4 806.8 L2257.7 826.4 L2250.8 846.1 L2269.1 865.8 L2276.6 885.5 L2260.9 905.1 L2273.7 924.8 L2248.4 944.5 L2287.2 964.1 L2284.4 983.8 L2308.8 1003.5 L2321.4 1023.2 L2350.1 1042.8 L2353.7 1062.5 L2375.3 1082.2 L2385.1 1101.9 L2375.6 1121.6 L2382.7 1141.2 L2375.9 1160.9 L2372.7 1180.6 L2399.3 1200.2 L2403.2 1219.9 L2427.8 1239.6 L2428.1 1259.3 L2415.4 1279.0 L2416.3 1298.6 L2396.5 1318.3 L2393.6 1338.0 L2370.1 1357.7 L2370.4 1377.3 L2343.7 1397.0 L2334.1 1416.7 L2310.3 1436.4 L2293.3 1456.0 L2296.3 1475.7 L2278.5 1495.4 L2283.7 1515.0 L2285.1 1534.7 L2278.5 1554.4 L2285.1 1574.1 L2294.6 1593.8 L2280.3 1613.4 L2276.2 1633.1 L2297.2 1652.8 L2279.7 1672.5 L2288.2 1692.1 L2279.4 1711.8 L2270.8 1731.5 L2286.5 1751.2 L2264.7 1770.8 L2282.6 1790.5 L2269.9 1810.2 L2301.1 1829.9 L2275.0 1849.5 L2307.3 1869.2 L2291.2 1888.9" fill="none" stroke="#d24e40" stroke-width="10" stroke-linejoin="round" stroke-linecap="round"/>
<path d="M2357.3 196.8 L2357.4 216.5 L2382.7 236.2 L2224.9 255.8 L2301.3 275.5 L2204.2 295.2 L2194.9 314.9 L2283.0 334.6 L2217.9 354.2 L2492.7 373.9 L2252.7 393.6 L2327.1 413.2 L2141.9 432.9 L2306.5 452.6 L2261.9 472.3 L2262.8 491.9 L2305.4 511.6 L2245.4 531.3 L2320.9 551.0 L2248.3 570.7 L2318.2 590.3 L2278.1 610.0 L2267.7 629.7 L2256.6 649.4 L2254.9 669.0 L2256.7 688.7 L2267.7 708.4 L2244.3 728.0 L2257.3 747.7 L2227.6 767.4 L2228.8 787.1 L2232.4 806.8 L2249.3 826.4 L2233.9 846.1 L2254.6 865.8 L2241.1 885.5 L2269.2 905.1 L2242.1 924.8 L2292.8 944.5 L2280.4 964.1 L2291.7 983.8 L2317.0 1003.5 L2320.5 1023.2 L2339.8 1042.8 L2328.2 1062.5 L2341.4 1082.2 L2351.2 1101.9 L2359.6 1121.6 L2383.9 1141.2 L2395.9 1160.9 L2423.7 1180.6 L2415.4 1200.2 L2411.5 1219.9 L2414.9 1239.6 L2456.0 1259.3 L2373.6 1279.0 L2399.4 1298.6 L2405.4 1318.3 L2360.4 1338.0 L2375.2 1357.7 L2360.5 1377.3 L2340.9 1397.0 L2342.8 1416.7 L2331.3 1436.4 L2323.0 1456.0 L2305.1 1475.7 L2326.5 1495.4 L2293.7 1515.0 L2292.3 1534.7" fill="none" stroke="#de5445" stroke-width="10" stroke-linejoin="round" stroke-linecap="round"/>
<path d="M2350.3 196.8 L2317.6 216.5 L2304.4 236.2 L2273.5 255.8 L2286.0 275.5 L2492.7 295.2 L2328.0 314.9 L2194.5 334.6 L2294.0 354.2 L2296.3 373.9 L2309.5 393.6 L2284.6 413.2 L2210.3 432.9 L2253.1 452.6 L2313.1 472.3 L2292.5 491.9 L2318.8 511.6 L2227.2 531.3 L2292.3 551.0 L2340.5 570.7 L2291.4 590.3 L2283.2 610.0 L2274.0 629.7 L2248.5 649.4 L2273.7 669.0 L2247.9 688.7 L2266.1 708.4 L2240.0 728.0 L2248.2 747.7 L2235.4 767.4 L2213.3 787.1 L2253.5 806.8 L2233.7 826.4 L2258.7 846.1 L2246.0 865.8 L2258.7 885.5 L2264.3 905.1 L2273.7 924.8 L2261.2 944.5 L2268.3 964.1 L2301.4 983.8 L2283.4 1003.5 L2321.0 1023.2 L2319.8 1042.8 L2343.2 1062.5 L2335.8 1082.2 L2339.3 1101.9 L2351.5 1121.6 L2354.4 1141.2 L2370.5 1160.9 L2354.9 1180.6 L2395.6 1200.2 L2380.3 1219.9 L2413.7 1239.6 L2408.3 1259.3 L2410.8 1279.0 L2396.3 1298.6 L2398.1 1318.3 L2374.3 1338.0 L2375.8 1357.7 L2349.5 1377.3 L2342.4 1397.0 L2319.3 1416.7 L2325.7 1436.4 L2282.3 1456.0 L2287.3 1475.7 L2263.0 1495.4 L2284.7 1515.0 L2261.4 1534.7 L2277.5 1554.4 L2261.0 1574.1 L2270.8 1593.8 L2255.9 1613.4 L2272.8 1633.1 L2248.9 1652.8 L2248.1 1672.5 L2249.5 1692.1 L2273.7 1711.8 L2259.7 1731.5 L2288.2 1751.2 L2273.4 1770.8 L2289.7 1790.5 L2281.7 1810.2 L2300.6 1829.9 L2308.3 1849.5 L2297.8 1869.2 L2303.9 1888.9" fill="none" stroke="#ea5a4a" stroke-width="10" stroke-linejoin="round" stroke-linecap="round"/>
<path d="M2300.0 1460.0 L2318.0 1471.0 L2436.0 1476.0 L3370.0 1494.0" fill="none" stroke="#4c0b0a" stroke-width="10" stroke-linejoin="round" stroke-linecap="round"/>
<path d="M2300.0 1482.0 L2436.0 1494.0 L3071.0 1512.0" fill="none" stroke="#400505" stroke-width="10" stroke-linejoin="round" stroke-linecap="round"/>
<path d="M2130.0 1541.0 L2500.0 1528.0 L3071.0 1513.0" fill="none" stroke="#58110f" stroke-width="10" stroke-linejoin="round" stroke-linecap="round"/>
<path d="M2288.0 1509.0 L2436.0 1519.0 L2986.0 1533.0" fill="none" stroke="#892923" stroke-width="10" stroke-linejoin="round" stroke-linecap="round"/>
<path d="M2130.0 1552.0 L2500.0 1538.0 L3370.0 1547.0" fill="none" stroke="#953028" stroke-width="10" stroke-linejoin="round" stroke-linecap="round"/>
<path d="M2288.0 1539.0 L2301.0 1553.0 L2436.0 1557.0 L3370.0 1567.0" fill="none" stroke="#ad3c31" stroke-width="10" stroke-linejoin="round" stroke-linecap="round"/>
<path d="M2281.0 1517.0 L2436.0 1537.0 L2600.0 1555.0 L3370.0 1567.0" fill="none" stroke="#d24e40" stroke-width="10" stroke-linejoin="round" stroke-linecap="round"/>
<path d="M2301.0 1553.0 L2500.0 1570.0 L3370.0 1587.0" fill="none" stroke="#de5445" stroke-width="10" stroke-linejoin="round" stroke-linecap="round"/>
<path d="M2130.0 1599.0 L2500.0 1605.0 L3370.0 1611.0" fill="none" stroke="#7d231e" stroke-width="10" stroke-linejoin="round" stroke-linecap="round"/>
<path d="M2130.0 1606.0 L2500.0 1594.0 L3370.0 1591.0" fill="none" stroke="#a1362c" stroke-width="10" stroke-linejoin="round" stroke-linecap="round"/>
<path d="M2130.0 1566.0 L2260.0 1568.0" fill="none" stroke="#641714" stroke-width="10" stroke-linejoin="round" stroke-linecap="round"/>
<path d="M2187.0 1558.0 L2253.0 1572.0" fill="none" stroke="#953028" stroke-width="10" stroke-linejoin="round" stroke-linecap="round"/>
<path d="M2274.0 1571.0 L2384.0 1592.0 L2600.0 1600.0" fill="none" stroke="#711d19" stroke-width="10" stroke-linejoin="round" stroke-linecap="round"/>
<path d="M2130.0 1615.0 L2324.0 1631.0 L2273.0 1671.0 L2467.0 1695.0 L2842.0 1712.0" fill="none" stroke="#b94236" stroke-width="10" stroke-linejoin="round" stroke-linecap="round"/>
<path d="M2130.0 1659.0 L2258.0 1637.0 L2464.0 1613.0" fill="none" stroke="#58110f" stroke-width="10" stroke-linejoin="round" stroke-linecap="round"/>
<path d="M2349.0 1692.0 L2370.0 1650.0 L2318.0 1628.0 L2290.0 1600.0" fill="none" stroke="#7d231e" stroke-width="10" stroke-linejoin="round" stroke-linecap="round"/>
<path d="M2315.0 1471.7 L2426.0 1495.0 L2288.0 1511.8 L2246.0 1513.0" fill="none" stroke="#d24e40" stroke-width="10" stroke-linejoin="round" stroke-linecap="round"/>
<path d="M2280.0 1780.0 L2360.0 1790.0 L2337.0 1811.0 L3370.0 1832.0" fill="none" stroke="#ea5a4a" stroke-width="10" stroke-linejoin="round" stroke-linecap="round"/>
<path d="M3003.0 1864.0 L3370.0 1859.0" fill="none" stroke="#de5445" stroke-width="10" stroke-linejoin="round" stroke-linecap="round"/>
<path d="M2318.2 1634.4 L2257.5 1670.8 L2160.3 1707.3 L2196.7 1725.5 L2184.6 1749.8 L2245.3 1771.1 L2230.2 1789.3 L2236.2 1807.5 L2293.9 1828.8 L2208.9 1847.0 L2278.7 1871.3" fill="none" stroke="#b94236" stroke-width="10" stroke-linejoin="round" stroke-linecap="round"/>
<path d="M2142.1 1746.8 L2172.4 1768.0 L2193.7 1792.3 L2202.8 1810.5 L2257.5 1843.9 L2318.2 1871.3" fill="none" stroke="#4c0b0a" stroke-width="10" stroke-linejoin="round" stroke-linecap="round"/>
<path d="M2257.5 1585.8 L2254.5 1622.2 L2254.5 1713.3 L2263.6 1743.7 L2269.6 1789.3 L2266.6 1819.7 L2293.9 1831.8 L2303.0 1871.3" fill="none" stroke="#7d231e" stroke-width="10" stroke-linejoin="round" stroke-linecap="round"/>
</g>
<rect x="672.4" y="216.5" width="1222.1" height="1652.3" fill="none" stroke="#fff" stroke-width="5"/>
<line x1="660.4" y1="1790.5" x2="672.4" y2="1790.5" stroke="#fff" stroke-width="3"/>
<text x="647.0" y="1806.5" font-size="44" text-anchor="end" font-weight="normal" fill="#fff">10</text>
<line x1="660.4" y1="1593.8" x2="672.4" y2="1593.8" stroke="#fff" stroke-width="3"/>
<text x="647.0" y="1609.8" font-size="44" text-anchor="end" font-weight="normal" fill="#fff">15</text>
<line x1="660.4" y1="1397.0" x2="672.4" y2="1397.0" stroke="#fff" stroke-width="3"/>
<text x="647.0" y="1413.0" font-size="44" text-anchor="end" font-weight="normal" fill="#fff">20</text>
<line x1="660.4" y1="1200.2" x2="672.4" y2="1200.2" stroke="#fff" stroke-width="3"/>
<text x="647.0" y="1216.2" font-size="44" text-anchor="end" font-weight="normal" fill="#fff">25</text>
<line x1="660.4" y1="1003.5" x2="672.4" y2="1003.5" stroke="#fff" stroke-width="3"/>
<text x="647.0" y="1019.5" font-size="44" text-anchor="end" font-weight="normal" fill="#fff">30</text>
<line x1="660.4" y1="806.8" x2="672.4" y2="806.8" stroke="#fff" stroke-width="3"/>
<text x="647.0" y="822.8" font-size="44" text-anchor="end" font-weight="normal" fill="#fff">35</text>
<line x1="660.4" y1="610.0" x2="672.4" y2="610.0" stroke="#fff" stroke-width="3"/>
<text x="647.0" y="626.0" font-size="44" text-anchor="end" font-weight="normal" fill="#fff">40</text>
<line x1="660.4" y1="413.2" x2="672.4" y2="413.2" stroke="#fff" stroke-width="3"/>
<text x="647.0" y="429.2" font-size="44" text-anchor="end" font-weight="normal" fill="#fff">45</text>
<line x1="660.4" y1="216.5" x2="672.4" y2="216.5" stroke="#fff" stroke-width="3"/>
<text x="647.0" y="232.5" font-size="44" text-anchor="end" font-weight="normal" fill="#fff">50</text>
<line x1="783.5" y1="1868.8" x2="783.5" y2="1880.8" stroke="#fff" stroke-width="3"/>
<text x="783.5" y="1926.0" font-size="44" text-anchor="middle" font-weight="normal" fill="#fff">0</text>
<line x1="1005.7" y1="1868.8" x2="1005.7" y2="1880.8" stroke="#fff" stroke-width="3"/>
<text x="1005.7" y="1926.0" font-size="44" text-anchor="middle" font-weight="normal" fill="#fff">20</text>
<line x1="1227.9" y1="1868.8" x2="1227.9" y2="1880.8" stroke="#fff" stroke-width="3"/>
<text x="1227.9" y="1926.0" font-size="44" text-anchor="middle" font-weight="normal" fill="#fff">40</text>
<line x1="1450.1" y1="1868.8" x2="1450.1" y2="1880.8" stroke="#fff" stroke-width="3"/>
<text x="1450.1" y="1926.0" font-size="44" text-anchor="middle" font-weight="normal" fill="#fff">60</text>
<line x1="1672.3" y1="1868.8" x2="1672.3" y2="1880.8" stroke="#fff" stroke-width="3"/>
<text x="1672.3" y="1926.0" font-size="44" text-anchor="middle" font-weight="normal" fill="#fff">80</text>
<line x1="1894.5" y1="1868.8" x2="1894.5" y2="1880.8" stroke="#fff" stroke-width="3"/>
<text x="1894.5" y="1926.0" font-size="44" text-anchor="middle" font-weight="normal" fill="#fff">100</text>
<text x="1283.5" y="2000.0" font-size="58" text-anchor="middle" font-weight="normal" fill="#fff" textLength="1097.0" lengthAdjust="spacingAndGlyphs">Aerosol-To-Molecular Extinction Ratio</text>
<text x="0" y="0" font-size="60" text-anchor="middle" fill="#fff" textLength="378" lengthAdjust="spacingAndGlyphs" transform="translate(558.4,1044) rotate(-90)">Altitude [km]</text>
<rect x="2138.3" y="216.5" width="1222.2" height="1652.3" fill="none" stroke="#fff" stroke-width="5"/>
<line x1="2126.3" y1="1790.5" x2="2138.3" y2="1790.5" stroke="#fff" stroke-width="3"/>
<text x="2112.9" y="1806.5" font-size="44" text-anchor="end" font-weight="normal" fill="#fff">10</text>
<line x1="2126.3" y1="1593.8" x2="2138.3" y2="1593.8" stroke="#fff" stroke-width="3"/>
<text x="2112.9" y="1609.8" font-size="44" text-anchor="end" font-weight="normal" fill="#fff">15</text>
<line x1="2126.3" y1="1397.0" x2="2138.3" y2="1397.0" stroke="#fff" stroke-width="3"/>
<text x="2112.9" y="1413.0" font-size="44" text-anchor="end" font-weight="normal" fill="#fff">20</text>
<line x1="2126.3" y1="1200.2" x2="2138.3" y2="1200.2" stroke="#fff" stroke-width="3"/>
<text x="2112.9" y="1216.2" font-size="44" text-anchor="end" font-weight="normal" fill="#fff">25</text>
<line x1="2126.3" y1="1003.5" x2="2138.3" y2="1003.5" stroke="#fff" stroke-width="3"/>
<text x="2112.9" y="1019.5" font-size="44" text-anchor="end" font-weight="normal" fill="#fff">30</text>
<line x1="2126.3" y1="806.8" x2="2138.3" y2="806.8" stroke="#fff" stroke-width="3"/>
<text x="2112.9" y="822.8" font-size="44" text-anchor="end" font-weight="normal" fill="#fff">35</text>
<line x1="2126.3" y1="610.0" x2="2138.3" y2="610.0" stroke="#fff" stroke-width="3"/>
<text x="2112.9" y="626.0" font-size="44" text-anchor="end" font-weight="normal" fill="#fff">40</text>
<line x1="2126.3" y1="413.2" x2="2138.3" y2="413.2" stroke="#fff" stroke-width="3"/>
<text x="2112.9" y="429.2" font-size="44" text-anchor="end" font-weight="normal" fill="#fff">45</text>
<line x1="2126.3" y1="216.5" x2="2138.3" y2="216.5" stroke="#fff" stroke-width="3"/>
<text x="2112.9" y="232.5" font-size="44" text-anchor="end" font-weight="normal" fill="#fff">50</text>
<line x1="2249.4" y1="1868.8" x2="2249.4" y2="1880.8" stroke="#fff" stroke-width="3"/>
<text x="2249.4" y="1926.0" font-size="44" text-anchor="middle" font-weight="normal" fill="#fff">0</text>
<line x1="2471.6" y1="1868.8" x2="2471.6" y2="1880.8" stroke="#fff" stroke-width="3"/>
<text x="2471.6" y="1926.0" font-size="44" text-anchor="middle" font-weight="normal" fill="#fff">20</text>
<line x1="2693.8" y1="1868.8" x2="2693.8" y2="1880.8" stroke="#fff" stroke-width="3"/>
<text x="2693.8" y="1926.0" font-size="44" text-anchor="middle" font-weight="normal" fill="#fff">40</text>
<line x1="2916.0" y1="1868.8" x2="2916.0" y2="1880.8" stroke="#fff" stroke-width="3"/>
<text x="2916.0" y="1926.0" font-size="44" text-anchor="middle" font-weight="normal" fill="#fff">60</text>
<line x1="3138.2" y1="1868.8" x2="3138.2" y2="1880.8" stroke="#fff" stroke-width="3"/>
<text x="3138.2" y="1926.0" font-size="44" text-anchor="middle" font-weight="normal" fill="#fff">80</text>
<line x1="3360.4" y1="1868.8" x2="3360.4" y2="1880.8" stroke="#fff" stroke-width="3"/>
<text x="3360.4" y="1926.0" font-size="44" text-anchor="middle" font-weight="normal" fill="#fff">100</text>
<text x="2749.4" y="2000.0" font-size="58" text-anchor="middle" font-weight="normal" fill="#fff" textLength="1097.0" lengthAdjust="spacingAndGlyphs">Aerosol-To-Molecular Extinction Ratio</text>
<text x="0" y="0" font-size="60" text-anchor="middle" fill="#fff" textLength="378" lengthAdjust="spacingAndGlyphs" transform="translate(2024.3,1044) rotate(-90)">Altitude [km]</text>
<rect x="8.5" y="729.5" width="429.0" height="956.0" rx="7" ry="7" fill="#000" stroke="#a8a8a8" stroke-width="3"/>
<rect x="19" y="756.0" width="90" height="10" fill="#0e4062"/>
<text x="138.0" y="775.5" font-size="41" text-anchor="start" font-weight="normal" fill="#fff" textLength="271.5" lengthAdjust="spacingAndGlyphs">2025100332SR</text>
<rect x="19" y="815.0" width="90" height="10" fill="#0e4569"/>
<text x="138.0" y="834.5" font-size="41" text-anchor="start" font-weight="normal" fill="#fff" textLength="279.0" lengthAdjust="spacingAndGlyphs">2025100402SR</text>
<rect x="19" y="874.0" width="90" height="10" fill="#0d4970"/>
<text x="138.0" y="893.5" font-size="41" text-anchor="start" font-weight="normal" fill="#fff" textLength="281.0" lengthAdjust="spacingAndGlyphs">2025100404SR</text>
<rect x="19" y="933.0" width="90" height="10" fill="#0d4e77"/>
<text x="138.0" y="952.5" font-size="41" text-anchor="start" font-weight="normal" fill="#fff" textLength="279.0" lengthAdjust="spacingAndGlyphs">2025100406SR</text>
<rect x="19" y="992.0" width="90" height="10" fill="#0d537e"/>
<text x="138.0" y="1011.5" font-size="41" text-anchor="start" font-weight="normal" fill="#fff" textLength="279.6" lengthAdjust="spacingAndGlyphs">2025100408SR</text>
<rect x="19" y="1051.0" width="90" height="10" fill="#0d5885"/>
<text x="138.0" y="1070.5" font-size="41" text-anchor="start" font-weight="normal" fill="#fff" textLength="276.4" lengthAdjust="spacingAndGlyphs">2025100410SR</text>
<rect x="19" y="1110.0" width="90" height="10" fill="#0c5c8c"/>
<text x="138.0" y="1129.5" font-size="41" text-anchor="start" font-weight="normal" fill="#fff" textLength="273.8" lengthAdjust="spacingAndGlyphs">2025100412SR</text>
<rect x="19" y="1169.0" width="90" height="10" fill="#0c6193"/>
<text x="138.0" y="1188.5" font-size="41" text-anchor="start" font-weight="normal" fill="#fff" textLength="277.0" lengthAdjust="spacingAndGlyphs">2025100414SR</text>
<rect x="19" y="1228.0" width="90" height="10" fill="#0c6699"/>
<text x="138.0" y="1247.5" font-size="41" text-anchor="start" font-weight="normal" fill="#fff" textLength="273.0" lengthAdjust="spacingAndGlyphs">2025100417SR</text>
<rect x="19" y="1287.0" width="90" height="10" fill="#0c6ba0"/>
<text x="138.0" y="1306.5" font-size="41" text-anchor="start" font-weight="normal" fill="#fff" textLength="279.0" lengthAdjust="spacingAndGlyphs">2025100420SR</text>
<rect x="19" y="1346.0" width="90" height="10" fill="#0b6fa7"/>
<text x="138.0" y="1365.5" font-size="41" text-anchor="start" font-weight="normal" fill="#fff" textLength="275.7" lengthAdjust="spacingAndGlyphs">2025100423SR</text>
<rect x="19" y="1405.0" width="90" height="10" fill="#0b74ae"/>
<text x="138.0" y="1424.5" font-size="41" text-anchor="start" font-weight="normal" fill="#fff" textLength="277.0" lengthAdjust="spacingAndGlyphs">2025100426SR</text>
<rect x="19" y="1464.0" width="90" height="10" fill="#0b79b5"/>
<text x="138.0" y="1483.5" font-size="41" text-anchor="start" font-weight="normal" fill="#fff" textLength="277.0" lengthAdjust="spacingAndGlyphs">2025100429SR</text>
<rect x="19" y="1523.0" width="90" height="10" fill="#0b7ebc"/>
<text x="138.0" y="1542.5" font-size="41" text-anchor="start" font-weight="normal" fill="#fff" textLength="275.7" lengthAdjust="spacingAndGlyphs">2025100432SR</text>
<rect x="19" y="1582.0" width="90" height="10" fill="#0a82c3"/>
<text x="138.0" y="1601.5" font-size="41" text-anchor="start" font-weight="normal" fill="#fff" textLength="275.7" lengthAdjust="spacingAndGlyphs">2025100435SR</text>
<rect x="19" y="1641.0" width="90" height="10" fill="#0a87ca"/>
<text x="138.0" y="1660.5" font-size="41" text-anchor="start" font-weight="normal" fill="#fff" textLength="277.0" lengthAdjust="spacingAndGlyphs">2025100438SR</text>
<rect x="3380.5" y="759.5" width="425.0" height="896.0" rx="7" ry="7" fill="#000" stroke="#a8a8a8" stroke-width="3"/>
<rect x="3391" y="786.0" width="90" height="10" fill="#400505"/>
<text x="3510.0" y="805.5" font-size="41" text-anchor="start" font-weight="normal" fill="#fff" textLength="274.6" lengthAdjust="spacingAndGlyphs">2025100401SS</text>
<rect x="3391" y="845.0" width="90" height="10" fill="#4c0b0a"/>
<text x="3510.0" y="864.5" font-size="41" text-anchor="start" font-weight="normal" fill="#fff" textLength="275.2" lengthAdjust="spacingAndGlyphs">2025100403SS</text>
<rect x="3391" y="904.0" width="90" height="10" fill="#58110f"/>
<text x="3510.0" y="923.5" font-size="41" text-anchor="start" font-weight="normal" fill="#fff" textLength="275.9" lengthAdjust="spacingAndGlyphs">2025100405SS</text>
<rect x="3391" y="963.0" width="90" height="10" fill="#641714"/>
<text x="3510.0" y="982.5" font-size="41" text-anchor="start" font-weight="normal" fill="#fff" textLength="275.2" lengthAdjust="spacingAndGlyphs">2025100407SS</text>
<rect x="3391" y="1022.0" width="90" height="10" fill="#711d19"/>
<text x="3510.0" y="1041.5" font-size="41" text-anchor="start" font-weight="normal" fill="#fff" textLength="275.9" lengthAdjust="spacingAndGlyphs">2025100409SS</text>
<rect x="3391" y="1081.0" width="90" height="10" fill="#7d231e"/>
<text x="3510.0" y="1100.5" font-size="41" text-anchor="start" font-weight="normal" fill="#fff" textLength="269.8" lengthAdjust="spacingAndGlyphs">2025100411SS</text>
<rect x="3391" y="1140.0" width="90" height="10" fill="#892923"/>
<text x="3510.0" y="1159.5" font-size="41" text-anchor="start" font-weight="normal" fill="#fff" textLength="271.0" lengthAdjust="spacingAndGlyphs">2025100413SS</text>
<rect x="3391" y="1199.0" width="90" height="10" fill="#953028"/>
<text x="3510.0" y="1218.5" font-size="41" text-anchor="start" font-weight="normal" fill="#fff" textLength="272.7" lengthAdjust="spacingAndGlyphs">2025100416SS</text>
<rect x="3391" y="1258.0" width="90" height="10" fill="#a1362c"/>
<text x="3510.0" y="1277.5" font-size="41" text-anchor="start" font-weight="normal" fill="#fff" textLength="272.0" lengthAdjust="spacingAndGlyphs">2025100419SS</text>
<rect x="3391" y="1317.0" width="90" height="10" fill="#ad3c31"/>
<text x="3510.0" y="1336.5" font-size="41" text-anchor="start" font-weight="normal" fill="#fff" textLength="274.6" lengthAdjust="spacingAndGlyphs">2025100422SS</text>
<rect x="3391" y="1376.0" width="90" height="10" fill="#b94236"/>
<text x="3510.0" y="1395.5" font-size="41" text-anchor="start" font-weight="normal" fill="#fff" textLength="274.6" lengthAdjust="spacingAndGlyphs">2025100425SS</text>
<rect x="3391" y="1435.0" width="90" height="10" fill="#c6483b"/>
<text x="3510.0" y="1454.5" font-size="41" text-anchor="start" font-weight="normal" fill="#fff" textLength="275.2" lengthAdjust="spacingAndGlyphs">2025100428SS</text>
<rect x="3391" y="1494.0" width="90" height="10" fill="#d24e40"/>
<text x="3510.0" y="1513.5" font-size="41" text-anchor="start" font-weight="normal" fill="#fff" textLength="271.0" lengthAdjust="spacingAndGlyphs">2025100431SS</text>
<rect x="3391" y="1553.0" width="90" height="10" fill="#de5445"/>
<text x="3510.0" y="1572.5" font-size="41" text-anchor="start" font-weight="normal" fill="#fff" textLength="275.9" lengthAdjust="spacingAndGlyphs">2025100434SS</text>
<rect x="3391" y="1612.0" width="90" height="10" fill="#ea5a4a"/>
<text x="3510.0" y="1631.5" font-size="41" text-anchor="start" font-weight="normal" fill="#fff" textLength="272.7" lengthAdjust="spacingAndGlyphs">2025100437SS</text>
<rect x="40" y="1975" width="37" height="10.5" fill="#fff"/><rect x="92.7" y="1975" width="27.3" height="10.5" fill="#fff"/>
<rect x="40" y="2035" width="10" height="10" fill="#fff"/>
<rect x="66" y="2035" width="10" height="10" fill="#fff"/>
<rect x="93" y="2035" width="10" height="10" fill="#fff"/>
<rect x="119" y="2035" width="4.5" height="10" fill="#fff"/>
<rect x="40" y="2085" width="82" height="29" fill="#6a6c71" stroke="#9a9ca0" stroke-width="2.5"/>
<text x="155.0" y="1994.0" font-size="40" text-anchor="start" font-weight="normal" fill="#fff" textLength="345.0" lengthAdjust="spacingAndGlyphs">Mean Tropopause</text>
<text x="155.0" y="2054.0" font-size="40" text-anchor="start" font-weight="normal" fill="#fff" textLength="381.0" lengthAdjust="spacingAndGlyphs">Median Tropopause</text>
<text x="154.0" y="2113.0" font-size="40" text-anchor="start" font-weight="normal" fill="#fff" textLength="365.5" lengthAdjust="spacingAndGlyphs">Tropopause Range</text>
<text x="3269.0" y="2039.0" font-size="33" text-anchor="start" font-weight="normal" fill="#888888" textLength="565.0" lengthAdjust="spacingAndGlyphs">SAGE III/ISS Mission | NASA LaRC</text>
<text x="3314.0" y="2076.0" font-size="33" text-anchor="start" font-weight="normal" fill="#888888" textLength="520.0" lengthAdjust="spacingAndGlyphs">Preparer: Kevin R. Leavor (AMA)</text>
<text x="3385.6" y="2113.5" font-size="33" text-anchor="start" font-weight="normal" fill="#888888" textLength="448.4" lengthAdjust="spacingAndGlyphs">Generated 2026-04-09 14:17</text>
<text x="3536.0" y="2150.0" font-size="33" text-anchor="start" font-weight="normal" fill="#888888" textLength="298.0" lengthAdjust="spacingAndGlyphs">Data Version: 6.0.0</text>
<g><path d="M3537.4 18 H3787 A43 43 0 0 1 3830 61 V224.4 A167.8 167.8 0 0 1 3494.4 224.4 V61 A43 43 0 0 1 3537.4 18 Z" fill="#e05246"/><path d="M3537.4 25.5 H3787 A35.5 35.5 0 0 1 3822.5 61 V224.4 A160.3 160.3 0 0 1 3501.9 224.4 V61 A35.5 35.5 0 0 1 3537.4 25.5 Z" fill="#125694"/><clipPath id="lc"><circle cx="3662" cy="220.2" r="125.5"/></clipPath><circle cx="3662" cy="220.2" r="133" fill="#0e4c85" stroke="#cdd2dc" stroke-width="15.7"/><g clip-path="url(#lc)"><circle cx="3081" cy="674" r="748" fill="#1d6fae"/><circle cx="3081" cy="674" r="734" fill="#5e9f6c"/><path d="M3600 300 Q3625 282 3650 292 Q3668 262 3690 275 Q3700 300 3702 350 L3600 352 Z" fill="#0e5590"/><path d="M3612 205 Q3630 196 3648 206 Q3652 222 3640 232 Q3622 230 3612 205 Z" fill="#0e5590"/><path d="M3648 235 Q3662 232 3672 248 L3668 262 Q3652 255 3648 235 Z" fill="#0e5590"/></g><g stroke="#e8f0f8" stroke-width="1.4" fill="none"><path d="M3602 154.5 L3670 260"/><path d="M3656 159.5 L3713.5 189 L3645 167"/><path d="M3713.5 189 L3670 226.5 M3713.5 189 L3676 232.8 M3716 192 L3720 262 M3718 192 L3738 260"/><path d="M3602 154.5 L3620 146"/></g><circle cx="3636.5" cy="144.6" r="23.6" fill="#eceef2"/><circle cx="3641" cy="140" r="6" fill="#c4c8d0"/><circle cx="3647" cy="152" r="5" fill="#c4c8d0"/><circle cx="3632" cy="150" r="3.5" fill="#c4c8d0"/><circle cx="3628" cy="136" r="3" fill="#d0d4da"/><circle cx="3735" cy="280.5" r="22.8" fill="#fbe0a2"/><path d="M3716 268 A22.8 22.8 0 0 0 3728 302 A26 26 0 0 1 3716 268 Z" fill="#dde0e6"/><path d="M3693.7 107 L3695.5 114.2 L3702.7 116 L3695.5 117.8 L3693.7 125 L3691.8999999999996 117.8 L3684.7 116 L3691.8999999999996 114.2 Z" fill="#f8d77a"/><path d="M3680 121 L3681.2 125.8 L3686 127 L3681.2 128.2 L3680 133 L3678.8 128.2 L3674 127 L3678.8 125.8 Z" fill="#ffffff"/><path d="M3703.6 126.5 L3704.5 130.1 L3708.1 131 L3704.5 131.9 L3703.6 135.5 L3702.7 131.9 L3699.1 131 L3702.7 130.1 Z" fill="#ffffff"/><g transform="translate(3728 180) rotate(33)" fill="#c8ccd2"><rect x="-36" y="-15" width="24" height="3"/><rect x="-36" y="-9" width="24" height="3"/><rect x="-36" y="-3" width="24" height="3"/><rect x="-36" y="3" width="24" height="3"/><rect x="14" y="-6" width="24" height="3"/><rect x="14" y="0" width="24" height="3"/><rect x="14" y="6" width="24" height="3"/><rect x="14" y="12" width="24" height="3"/><rect x="-14" y="-2" width="30" height="3"/><rect x="-4" y="-10" width="3" height="22"/><rect x="6" y="-8" width="3" height="20"/></g><path d="M3500 238 Q3512 200 3535 168 Q3555 150 3575 147 L3568 175 Q3545 205 3522 238 Z" fill="#8e1f18"/><path d="M3542 162 Q3570 146 3600 160 Q3612 185 3609 215 L3609 333 Q3575 336 3552 318 Q3540 280 3532 230 Q3528 190 3542 162 Z" fill="#c9412f"/><g stroke="#8a2018" stroke-width="2.5" fill="none"><path d="M3560 235 Q3562 280 3565 325"/><path d="M3578 232 Q3580 280 3582 330"/><path d="M3595 232 Q3596 280 3598 332"/><path d="M3548 240 Q3548 280 3556 318"/></g><path d="M3560 145 Q3572 126 3592 128 Q3606 132 3607 150 Q3604 178 3596 190 Q3582 196 3570 186 Q3560 170 3560 145 Z" fill="#f3f3f3"/><path d="M3580 136 Q3596 132 3603 142 Q3604 156 3598 164 Q3586 164 3580 152 Z" fill="#c98e58"/><rect x="3556" y="212" width="54" height="10" fill="#6e2a16" transform="rotate(8 3583 217)"/><path d="M3586 216 L3593 212 L3600 216 L3600 226 L3593 230 L3586 226 Z" fill="#7a3a1a" stroke="#d8a060" stroke-width="1.2"/><line x1="3535" y1="118" x2="3560" y2="300" stroke="#b6773a" stroke-width="6"/><circle cx="3532.2" cy="113.5" r="10.5" fill="#d5d9e0" stroke="#f4f6f8" stroke-width="1.5"/><circle cx="3539" cy="186" r="6.5" fill="#d49a66"/><path d="M3604 176 L3617 170 L3620 200 L3608 205 Z" fill="#7a2a18"/><circle cx="3612" cy="194" r="5" fill="#d49a66"/><text x="3527.6" y="59.3" font-family="'Liberation Serif', serif" font-weight="bold" font-size="40" fill="#fff" textLength="266" lengthAdjust="spacingAndGlyphs">SAGE III • ISS</text><text x="3527.6" y="71.2" font-size="8.5" fill="#dfe6ee" textLength="174" lengthAdjust="spacingAndGlyphs">Stratospheric Aerosol and Gas Experiment III</text><text x="3763.5" y="72.3" font-size="9" fill="#dfe6ee" text-anchor="middle">International</text><text x="3763.5" y="82.8" font-size="9" fill="#dfe6ee" text-anchor="middle">Space Station</text><path id="arc" d="M3509.5 257.5 A157 157 0 0 0 3818.3 235.3" fill="none"/><text font-size="16" font-weight="bold" fill="#fff"><textPath href="#arc" textLength="440" lengthAdjust="spacingAndGlyphs">BALL • NASA LANGLEY RESEARCH CENTER • TAS-I • ESA</textPath></text></g>
</svg></body></html>
